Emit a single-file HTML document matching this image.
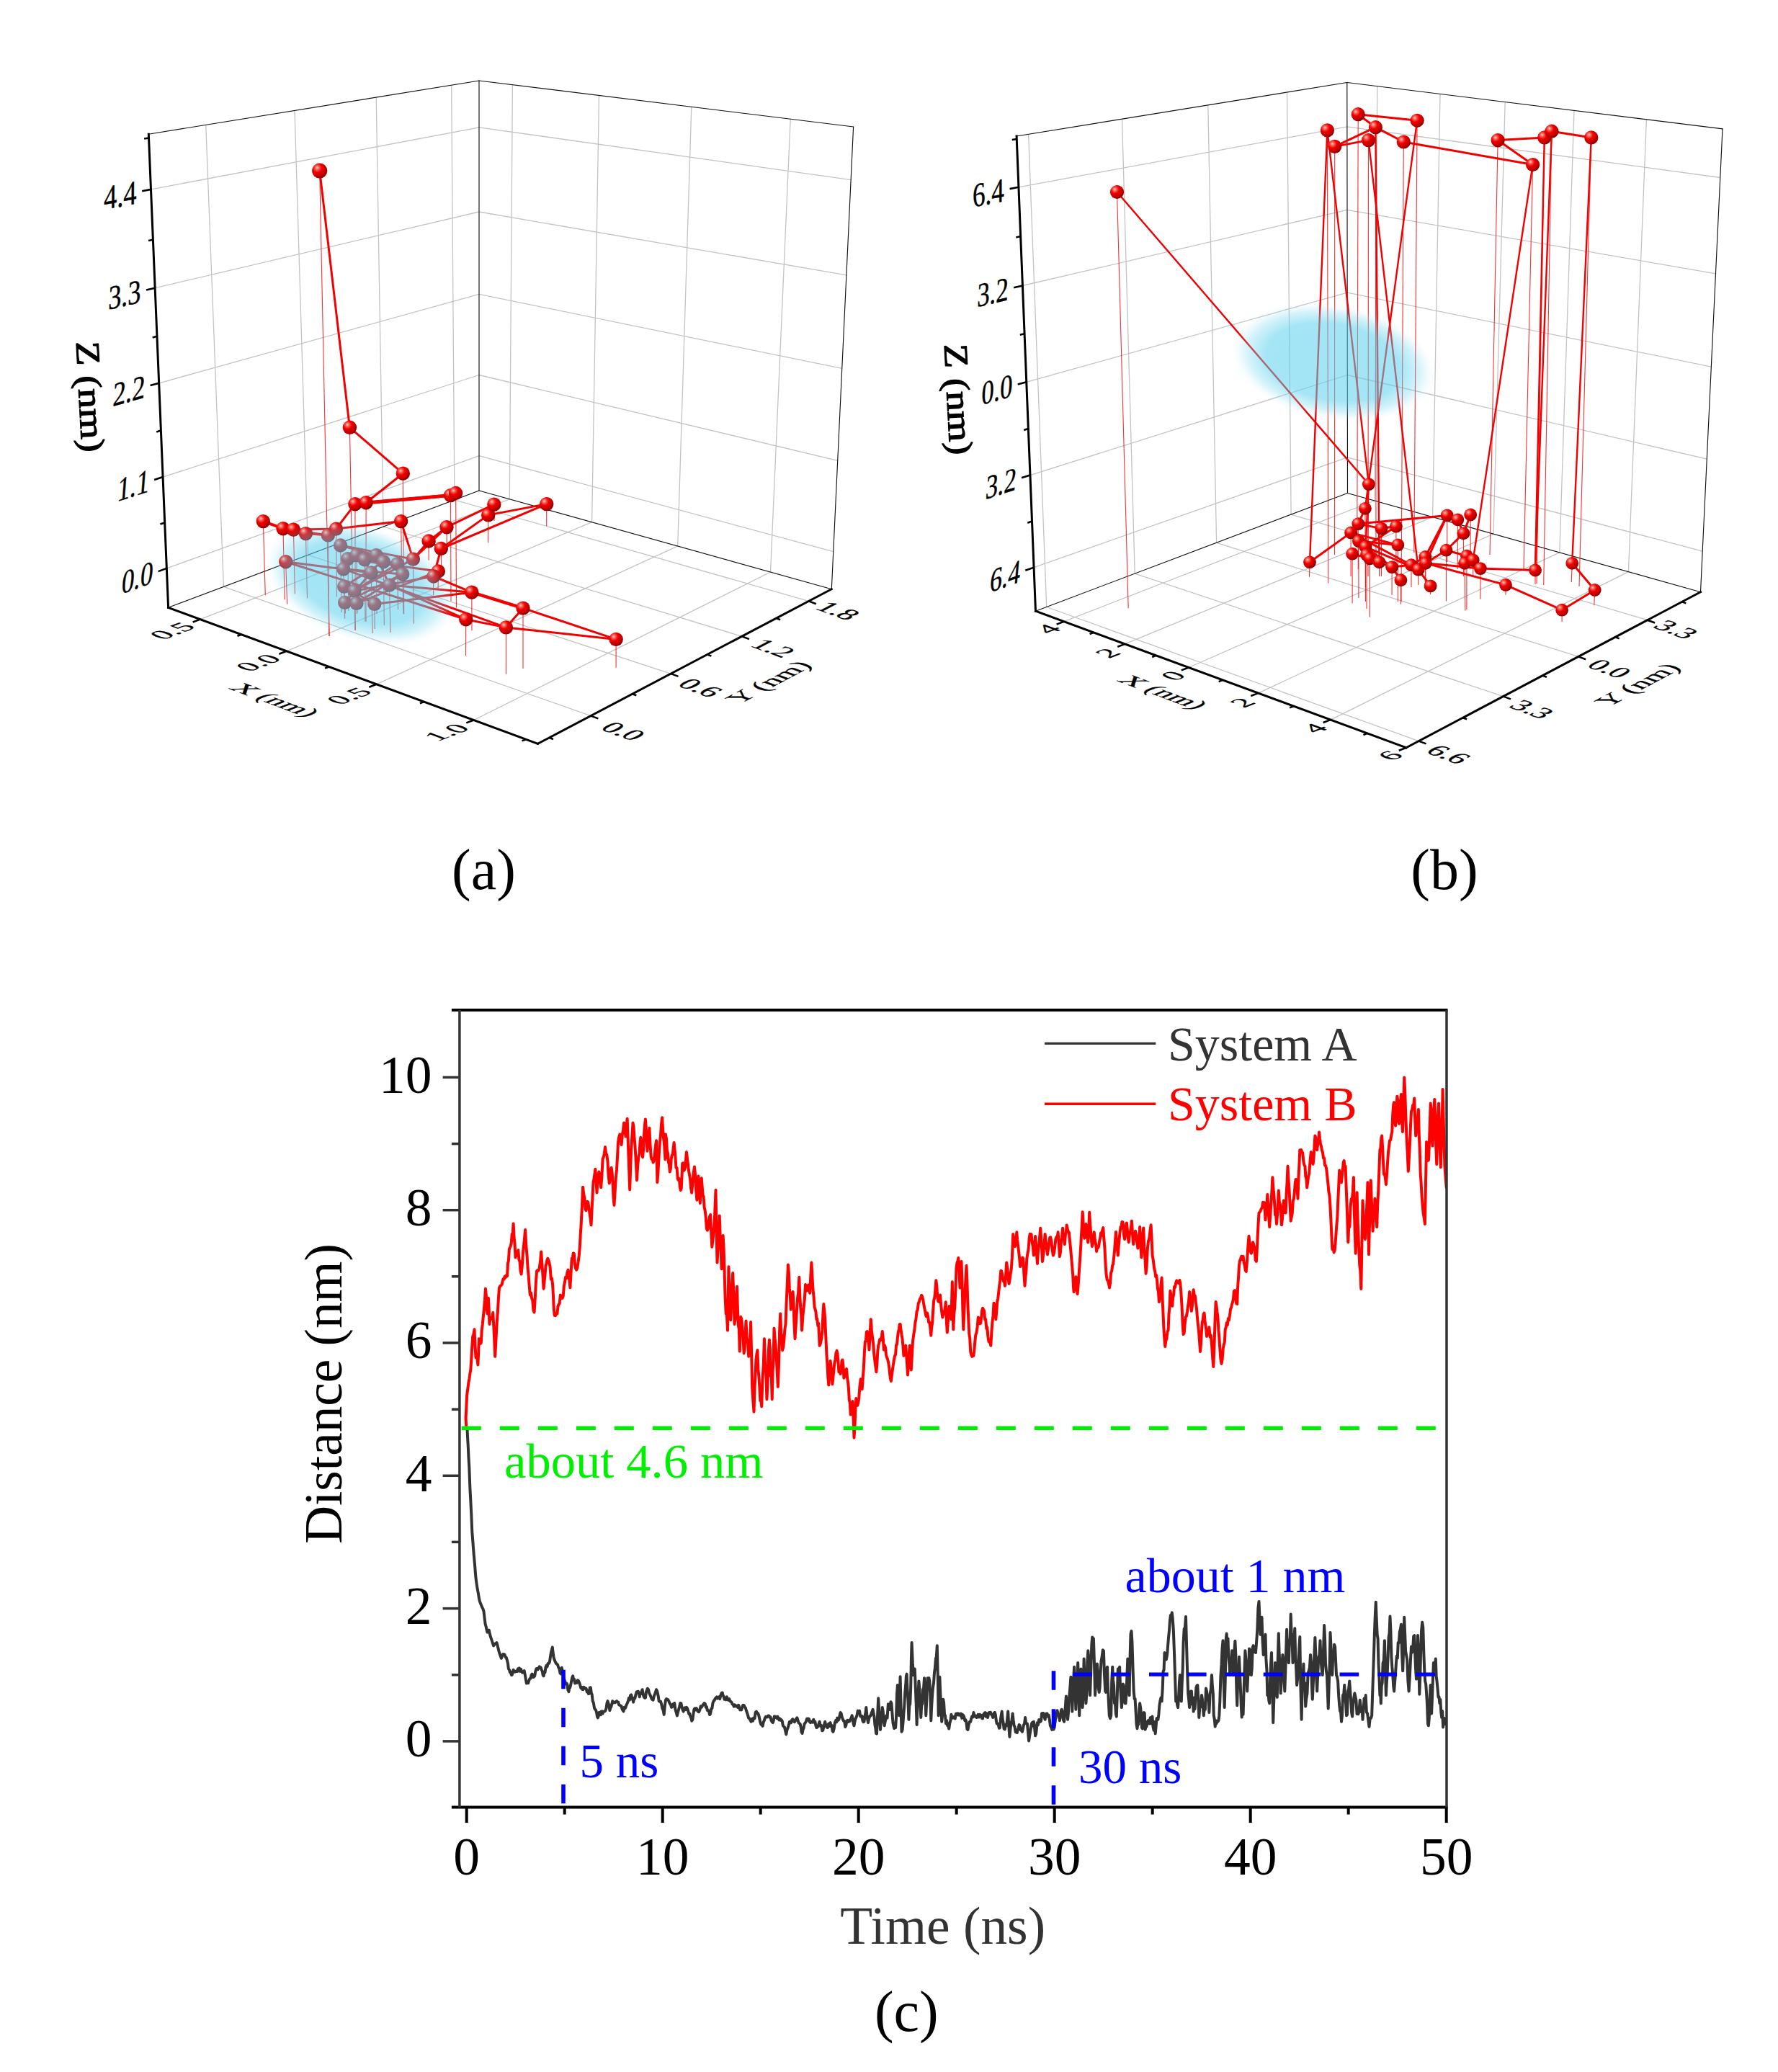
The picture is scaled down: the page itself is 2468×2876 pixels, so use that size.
<!DOCTYPE html>
<html lang="en"><head><meta charset="utf-8"><title>Figure</title>
<style>html,body{margin:0;padding:0;background:#fff}body{width:2468px;height:2876px;overflow:hidden}svg{display:block}text{font-family:"Liberation Serif","Times New Roman",serif}</style></head><body>
<svg width="2468" height="2876" viewBox="0 0 2468 2876">
<defs>
<radialGradient id="ball" cx="0.36" cy="0.33" r="0.72" fx="0.33" fy="0.30"><stop offset="0" stop-color="#ffd4c8"/><stop offset="0.19" stop-color="#ff5a50"/><stop offset="0.42" stop-color="#ee0000"/><stop offset="0.75" stop-color="#c00000"/><stop offset="1" stop-color="#7a0000"/></radialGradient>
<radialGradient id="blob" cx="0.5" cy="0.5" r="0.5"><stop offset="0" stop-color="#5bd0ed" stop-opacity="0.56"/><stop offset="0.66" stop-color="#5bd0ed" stop-opacity="0.55"/><stop offset="0.84" stop-color="#6ad5ef" stop-opacity="0.3"/><stop offset="0.94" stop-color="#7adaf1" stop-opacity="0.08"/><stop offset="1" stop-color="#80dcf2" stop-opacity="0"/></radialGradient>
<clipPath id="cc"><rect x="639" y="1403" width="1369" height="1105"/></clipPath>
</defs>
<rect width="2468" height="2876" fill="#fff"/>
<g id="plotA">
<g stroke="#c3c3c3" stroke-width="1.3" fill="none">
<line x1="285.7" y1="173.4" x2="310.4" y2="814.4"/>
<line x1="409.0" y1="153.4" x2="427.7" y2="770.3"/>
<line x1="522.2" y1="135.1" x2="532.1" y2="731.0"/>
<line x1="626.7" y1="118.2" x2="630.9" y2="693.8"/>
<line x1="209.5" y1="262.9" x2="665.0" y2="176.8"/>
<line x1="665.0" y1="176.8" x2="1181.1" y2="249.6"/>
<line x1="215.2" y1="399.7" x2="665.0" y2="294.0"/>
<line x1="665.0" y1="294.0" x2="1174.9" y2="381.9"/>
<line x1="220.7" y1="531.8" x2="665.0" y2="408.3"/>
<line x1="665.0" y1="408.3" x2="1168.8" y2="511.4"/>
<line x1="226.1" y1="662.1" x2="665.0" y2="520.5"/>
<line x1="665.0" y1="520.5" x2="1162.7" y2="639.3"/>
<line x1="231.3" y1="788.9" x2="665.0" y2="632.7"/>
<line x1="665.0" y1="632.7" x2="1156.8" y2="765.7"/>
<line x1="711.4" y1="117.7" x2="707.3" y2="692.8"/>
<line x1="831.5" y1="132.5" x2="821.6" y2="724.7"/>
<line x1="959.8" y1="148.3" x2="940.7" y2="758.0"/>
<line x1="1097.2" y1="165.2" x2="1069.5" y2="794.0"/>
<line x1="278.0" y1="859.6" x2="707.3" y2="692.8"/>
<line x1="397.7" y1="903.8" x2="821.6" y2="724.7"/>
<line x1="522.6" y1="949.8" x2="940.7" y2="758.0"/>
<line x1="657.6" y1="999.5" x2="1069.5" y2="794.0"/>
<line x1="820.1" y1="993.6" x2="310.4" y2="814.4"/>
<line x1="931.2" y1="935.1" x2="427.7" y2="770.3"/>
<line x1="1029.7" y1="883.3" x2="532.1" y2="731.0"/>
<line x1="1122.5" y1="834.4" x2="630.9" y2="693.8"/>
</g>
<g stroke="#111" stroke-width="1.15" fill="none" stroke-linecap="round">
<line x1="206.3" y1="186.2" x2="665.0" y2="112.0"/>
<line x1="665.0" y1="112.0" x2="1184.6" y2="176.0"/>
<line x1="1184.6" y1="176.0" x2="1154.3" y2="817.7"/>
<line x1="665.0" y1="112.0" x2="665.0" y2="681.0"/>
<line x1="233.6" y1="843.3" x2="665.0" y2="681.0"/>
<line x1="665.0" y1="681.0" x2="1154.3" y2="817.7"/>
</g>
<g stroke="#ee1111" stroke-width="1.1" stroke-opacity="0.85" fill="none">
<line x1="443.7" y1="237.0" x2="457.0" y2="883.0"/>
<line x1="485.4" y1="593.3" x2="490.0" y2="846.0"/>
<line x1="559.3" y1="657.2" x2="560.7" y2="852.6"/>
<line x1="492.9" y1="699.7" x2="493.3" y2="874.9"/>
<line x1="508.1" y1="697.7" x2="508.0" y2="862.7"/>
<line x1="625.5" y1="687.6" x2="626.0" y2="834.4"/>
<line x1="632.6" y1="684.5" x2="633.6" y2="843.5"/>
<line x1="556.6" y1="723.6" x2="557.6" y2="790.0"/>
<line x1="365.3" y1="723.6" x2="368.3" y2="826.3"/>
<line x1="393.0" y1="733.7" x2="395.1" y2="832.3"/>
<line x1="407.4" y1="735.2" x2="409.4" y2="824.2"/>
<line x1="424.4" y1="740.6" x2="426.5" y2="830.3"/>
<line x1="455.4" y1="742.9" x2="457.0" y2="883.0"/>
<line x1="466.5" y1="734.1" x2="467.5" y2="828.3"/>
<line x1="472.6" y1="757.0" x2="474.0" y2="850.0"/>
<line x1="396.7" y1="779.7" x2="398.6" y2="838.4"/>
<line x1="482.7" y1="775.7" x2="484.0" y2="848.0"/>
<line x1="476.7" y1="789.8" x2="478.7" y2="858.7"/>
<line x1="494.9" y1="770.6" x2="496.0" y2="850.6"/>
<line x1="506.0" y1="776.7" x2="507.0" y2="862.7"/>
<line x1="522.2" y1="770.6" x2="523.0" y2="852.0"/>
<line x1="532.3" y1="779.7" x2="533.3" y2="867.8"/>
<line x1="551.6" y1="782.7" x2="552.5" y2="846.0"/>
<line x1="573.4" y1="776.1" x2="574.3" y2="865.8"/>
<line x1="515.1" y1="794.9" x2="517.2" y2="878.9"/>
<line x1="558.7" y1="796.9" x2="560.0" y2="852.0"/>
<line x1="540.4" y1="812.1" x2="542.1" y2="877.9"/>
<line x1="477.7" y1="814.1" x2="479.0" y2="852.0"/>
<line x1="491.9" y1="820.2" x2="492.9" y2="874.9"/>
<line x1="478.7" y1="836.4" x2="479.5" y2="851.0"/>
<line x1="494.9" y1="837.4" x2="495.5" y2="852.0"/>
<line x1="519.8" y1="838.4" x2="520.2" y2="872.9"/>
<line x1="608.3" y1="792.9" x2="608.1" y2="819.2"/>
<line x1="601.8" y1="800.0" x2="601.6" y2="826.3"/>
<line x1="595.1" y1="751.0" x2="595.1" y2="777.7"/>
<line x1="612.3" y1="761.5" x2="612.5" y2="790.0"/>
<line x1="620.0" y1="731.7" x2="620.2" y2="760.0"/>
<line x1="677.7" y1="714.9" x2="677.6" y2="753.5"/>
<line x1="685.8" y1="700.1" x2="686.0" y2="723.0"/>
<line x1="654.8" y1="822.2" x2="655.0" y2="875.0"/>
<line x1="646.7" y1="859.7" x2="646.5" y2="910.0"/>
<line x1="702.4" y1="870.9" x2="702.4" y2="935.8"/>
<line x1="758.7" y1="699.6" x2="758.7" y2="730.3"/>
<line x1="726.0" y1="844.1" x2="726.0" y2="928.0"/>
<line x1="855.1" y1="887.4" x2="855.1" y2="926.8"/>
</g>
<g stroke="#f00000" stroke-width="3.0" fill="none" stroke-linecap="round">
<line x1="443.7" y1="237.0" x2="485.4" y2="593.3"/>
<line x1="485.4" y1="593.3" x2="559.3" y2="657.2"/>
<line x1="559.3" y1="657.2" x2="508.1" y2="697.7"/>
<line x1="508.1" y1="697.7" x2="625.5" y2="687.6" stroke-width="4.5"/>
<line x1="492.9" y1="699.7" x2="625.5" y2="687.6" stroke-width="4.5"/>
<line x1="492.9" y1="699.7" x2="466.5" y2="734.1"/>
<line x1="466.5" y1="734.1" x2="556.6" y2="723.6"/>
<line x1="556.6" y1="723.6" x2="573.4" y2="776.1"/>
<line x1="365.3" y1="723.6" x2="393.0" y2="733.7" stroke-width="4.0"/>
<line x1="393.0" y1="733.7" x2="407.4" y2="735.2"/>
<line x1="407.4" y1="735.2" x2="466.5" y2="734.1"/>
<line x1="424.4" y1="740.6" x2="455.4" y2="742.9"/>
<line x1="393.0" y1="733.7" x2="455.4" y2="742.9"/>
<line x1="455.4" y1="742.9" x2="466.5" y2="734.1"/>
<line x1="472.6" y1="757.0" x2="522.2" y2="770.6"/>
<line x1="472.6" y1="757.0" x2="573.4" y2="776.1"/>
<line x1="396.7" y1="779.7" x2="646.7" y2="859.7"/>
<line x1="396.7" y1="779.7" x2="515.1" y2="794.9"/>
<line x1="540.4" y1="812.1" x2="646.7" y2="859.7"/>
<line x1="482.7" y1="775.7" x2="532.3" y2="779.7"/>
<line x1="476.7" y1="789.8" x2="558.7" y2="796.9"/>
<line x1="494.9" y1="770.6" x2="551.6" y2="782.7"/>
<line x1="506.0" y1="776.7" x2="515.1" y2="794.9"/>
<line x1="522.2" y1="770.6" x2="540.4" y2="812.1"/>
<line x1="532.3" y1="779.7" x2="477.7" y2="814.1"/>
<line x1="551.6" y1="782.7" x2="491.9" y2="820.2"/>
<line x1="573.4" y1="776.1" x2="595.1" y2="751.0"/>
<line x1="515.1" y1="794.9" x2="478.7" y2="836.4"/>
<line x1="558.7" y1="796.9" x2="494.9" y2="837.4"/>
<line x1="540.4" y1="812.1" x2="654.8" y2="822.2"/>
<line x1="477.7" y1="814.1" x2="519.8" y2="838.4"/>
<line x1="491.9" y1="820.2" x2="601.8" y2="800.0"/>
<line x1="494.9" y1="837.4" x2="608.3" y2="792.9"/>
<line x1="519.8" y1="838.4" x2="654.8" y2="822.2"/>
<line x1="478.7" y1="836.4" x2="558.7" y2="796.9"/>
<line x1="595.1" y1="751.0" x2="620.0" y2="731.7"/>
<line x1="620.0" y1="731.7" x2="685.8" y2="700.1"/>
<line x1="612.3" y1="761.5" x2="677.7" y2="714.9"/>
<line x1="612.3" y1="761.5" x2="758.7" y2="699.6"/>
<line x1="677.7" y1="714.9" x2="758.7" y2="699.6"/>
<line x1="595.1" y1="751.0" x2="612.3" y2="761.5"/>
<line x1="601.8" y1="800.0" x2="654.8" y2="822.2"/>
<line x1="654.8" y1="822.2" x2="726.0" y2="844.1" stroke-width="4.5"/>
<line x1="646.7" y1="859.7" x2="702.4" y2="870.9"/>
<line x1="476.7" y1="789.8" x2="702.4" y2="870.9"/>
<line x1="702.4" y1="870.9" x2="855.1" y2="887.4"/>
<line x1="726.0" y1="844.1" x2="855.1" y2="887.4"/>
<line x1="726.0" y1="844.1" x2="702.4" y2="870.9"/>
<line x1="573.4" y1="776.1" x2="620.0" y2="731.7"/>
<line x1="601.8" y1="800.0" x2="612.3" y2="761.5"/>
<line x1="482.7" y1="775.7" x2="608.3" y2="792.9"/>
<line x1="491.9" y1="820.2" x2="573.4" y2="776.1"/>
</g>
<circle cx="443.7" cy="237.0" r="10.6" fill="url(#ball)"/>
<circle cx="485.4" cy="593.3" r="9.7" fill="url(#ball)"/>
<circle cx="559.3" cy="657.2" r="9.7" fill="url(#ball)"/>
<circle cx="492.9" cy="699.7" r="9.7" fill="url(#ball)"/>
<circle cx="508.1" cy="697.7" r="9.7" fill="url(#ball)"/>
<circle cx="625.5" cy="687.6" r="9.7" fill="url(#ball)"/>
<circle cx="632.6" cy="684.5" r="9.7" fill="url(#ball)"/>
<circle cx="556.6" cy="723.6" r="9.7" fill="url(#ball)"/>
<circle cx="365.3" cy="723.6" r="9.7" fill="url(#ball)"/>
<circle cx="393.0" cy="733.7" r="9.7" fill="url(#ball)"/>
<circle cx="407.4" cy="735.2" r="9.7" fill="url(#ball)"/>
<circle cx="424.4" cy="740.6" r="9.7" fill="url(#ball)"/>
<circle cx="455.4" cy="742.9" r="9.7" fill="url(#ball)"/>
<circle cx="466.5" cy="734.1" r="9.7" fill="url(#ball)"/>
<circle cx="472.6" cy="757.0" r="9.7" fill="url(#ball)"/>
<circle cx="396.7" cy="779.7" r="9.7" fill="url(#ball)"/>
<circle cx="482.7" cy="775.7" r="9.7" fill="url(#ball)"/>
<circle cx="476.7" cy="789.8" r="9.7" fill="url(#ball)"/>
<circle cx="494.9" cy="770.6" r="9.7" fill="url(#ball)"/>
<circle cx="506.0" cy="776.7" r="9.7" fill="url(#ball)"/>
<circle cx="522.2" cy="770.6" r="9.7" fill="url(#ball)"/>
<circle cx="532.3" cy="779.7" r="9.7" fill="url(#ball)"/>
<circle cx="551.6" cy="782.7" r="9.7" fill="url(#ball)"/>
<circle cx="573.4" cy="776.1" r="9.7" fill="url(#ball)"/>
<circle cx="515.1" cy="794.9" r="9.7" fill="url(#ball)"/>
<circle cx="558.7" cy="796.9" r="9.7" fill="url(#ball)"/>
<circle cx="540.4" cy="812.1" r="9.7" fill="url(#ball)"/>
<circle cx="477.7" cy="814.1" r="9.7" fill="url(#ball)"/>
<circle cx="491.9" cy="820.2" r="9.7" fill="url(#ball)"/>
<circle cx="478.7" cy="836.4" r="9.7" fill="url(#ball)"/>
<circle cx="494.9" cy="837.4" r="9.7" fill="url(#ball)"/>
<circle cx="519.8" cy="838.4" r="9.7" fill="url(#ball)"/>
<circle cx="608.3" cy="792.9" r="9.7" fill="url(#ball)"/>
<circle cx="601.8" cy="800.0" r="9.7" fill="url(#ball)"/>
<circle cx="595.1" cy="751.0" r="9.7" fill="url(#ball)"/>
<circle cx="612.3" cy="761.5" r="9.7" fill="url(#ball)"/>
<circle cx="620.0" cy="731.7" r="9.7" fill="url(#ball)"/>
<circle cx="677.7" cy="714.9" r="9.7" fill="url(#ball)"/>
<circle cx="685.8" cy="700.1" r="9.7" fill="url(#ball)"/>
<circle cx="654.8" cy="822.2" r="9.7" fill="url(#ball)"/>
<circle cx="646.7" cy="859.7" r="9.7" fill="url(#ball)"/>
<circle cx="702.4" cy="870.9" r="9.7" fill="url(#ball)"/>
<circle cx="758.7" cy="699.6" r="9.7" fill="url(#ball)"/>
<circle cx="726.0" cy="844.1" r="9.7" fill="url(#ball)"/>
<circle cx="855.1" cy="887.4" r="9.7" fill="url(#ball)"/>
<ellipse cx="0" cy="0" rx="136" ry="79" transform="translate(501 809) rotate(18)" fill="url(#blob)"/>
<g stroke="#000" stroke-width="3" fill="none" stroke-linecap="square">
<line x1="206.3" y1="186.2" x2="233.6" y2="843.3"/>
<line x1="233.6" y1="843.3" x2="746.5" y2="1032.3"/>
<line x1="746.5" y1="1032.3" x2="1154.3" y2="817.7"/>
</g><g stroke="#000" stroke-width="2.6" fill="none">
<line x1="197.2" y1="265.2" x2="209.5" y2="262.9"/>
<line x1="203.0" y1="402.5" x2="215.2" y2="399.7"/>
<line x1="208.6" y1="535.1" x2="220.7" y2="531.8"/>
<line x1="214.1" y1="665.9" x2="226.1" y2="662.1"/>
<line x1="219.6" y1="793.1" x2="231.3" y2="788.9"/>
<line x1="200.1" y1="192.5" x2="206.5" y2="191.5"/>
<line x1="206.0" y1="334.1" x2="212.4" y2="332.7"/>
<line x1="211.7" y1="468.4" x2="218.0" y2="466.8"/>
<line x1="217.2" y1="599.4" x2="223.4" y2="597.5"/>
<line x1="222.5" y1="727.4" x2="228.7" y2="725.4"/>
<line x1="278.0" y1="859.6" x2="267.7" y2="863.5"/>
<line x1="397.7" y1="903.8" x2="387.4" y2="907.7"/>
<line x1="522.6" y1="949.8" x2="512.3" y2="953.7"/>
<line x1="657.6" y1="999.5" x2="647.3" y2="1003.4"/>
<line x1="335.2" y1="880.7" x2="329.5" y2="882.8"/>
<line x1="456.7" y1="925.5" x2="451.1" y2="927.6"/>
<line x1="588.5" y1="974.1" x2="582.9" y2="976.2"/>
<line x1="730.1" y1="1026.3" x2="724.5" y2="1028.4"/>
<line x1="820.1" y1="993.6" x2="830.4" y2="997.4"/>
<line x1="931.2" y1="935.1" x2="941.5" y2="938.9"/>
<line x1="1029.7" y1="883.3" x2="1040.0" y2="887.1"/>
<line x1="1122.5" y1="834.4" x2="1132.8" y2="838.2"/>
<line x1="762.4" y1="1023.9" x2="768.0" y2="1026.0"/>
<line x1="877.8" y1="963.2" x2="883.4" y2="965.3"/>
<line x1="981.8" y1="908.5" x2="987.4" y2="910.6"/>
<line x1="1077.5" y1="858.1" x2="1083.1" y2="860.2"/>
</g>
<g fill="#000" stroke="#000" stroke-width="0.45">
<text transform="matrix(0.7762 -0.1468 -0.0068 1.0000 189.5 282.5)" font-size="47" text-anchor="end">4.4</text>
<text transform="matrix(0.7691 -0.1807 -0.0309 0.9995 195.2 419.4)" font-size="47" text-anchor="end">3.3</text>
<text transform="matrix(0.7611 -0.2116 -0.0532 0.9986 200.7 551.8)" font-size="47" text-anchor="end">2.2</text>
<text transform="matrix(0.7518 -0.2426 -0.0756 0.9971 206.1 682.3)" font-size="47" text-anchor="end">1.1</text>
<text transform="matrix(0.7433 -0.2677 -0.0940 0.9956 211.3 809.2)" font-size="47" text-anchor="end">0.0</text>
<text transform="matrix(0.9360 -0.3521 0.8070 0.2974 239.1 875.7)" font-size="40" text-anchor="middle" y="13.2">0.5</text>
<text transform="matrix(0.9360 -0.3521 0.8070 0.2974 358.5 920.0)" font-size="40" text-anchor="middle" y="13.2">0.0</text>
<text transform="matrix(0.9360 -0.3521 0.8070 0.2974 484.5 966.0)" font-size="40" text-anchor="middle" y="13.2">0.5</text>
<text transform="matrix(0.9360 -0.3521 0.8070 0.2974 620.0 1016.5)" font-size="40" text-anchor="middle" y="13.2">1.0</text>
<text transform="matrix(0.9383 0.3458 -0.7611 0.4005 865.1 1015.1)" font-size="40" text-anchor="middle" y="13.2">0.0</text>
<text transform="matrix(0.9383 0.3458 -0.7611 0.4005 972.0 954.7)" font-size="40" text-anchor="middle" y="13.2">0.6</text>
<text transform="matrix(0.9383 0.3458 -0.7611 0.4005 1073.2 899.8)" font-size="40" text-anchor="middle" y="13.2">1.2</text>
<text transform="matrix(0.9383 0.3458 -0.7611 0.4005 1163.2 847.8)" font-size="40" text-anchor="middle" y="13.2">1.8</text>
<text transform="matrix(0.9383 0.3458 -0.8049 0.3028 379.7 972.4)" font-size="40" text-anchor="middle" y="10.8">X (nm)</text>
<text transform="matrix(0.8849 -0.4657 0.8070 0.2974 1069.0 947.6)" font-size="40" text-anchor="middle" y="10.8">Y (nm)</text>
<text transform="translate(109.6 551.4) rotate(87.1) scale(1.175 1)" font-size="46.8" stroke="#000" stroke-width="1.15" stroke-linejoin="round" text-anchor="middle">Z (nm)</text>
</g>
</g>
<g id="plotB">
<g stroke="#c3c3c3" stroke-width="1.3" fill="none">
<line x1="1427.6" y1="186.3" x2="1452.7" y2="842.5"/>
<line x1="1557.5" y1="165.2" x2="1575.2" y2="796.1"/>
<line x1="1676.8" y1="145.8" x2="1688.6" y2="753.3"/>
<line x1="1786.5" y1="128.0" x2="1792.1" y2="714.1"/>
<line x1="1413.9" y1="259.8" x2="1869.9" y2="175.9"/>
<line x1="1869.9" y1="175.9" x2="2387.8" y2="246.5"/>
<line x1="1419.4" y1="396.5" x2="1870.0" y2="291.3"/>
<line x1="1870.0" y1="291.3" x2="2381.5" y2="379.9"/>
<line x1="1424.8" y1="530.3" x2="1870.2" y2="406.2"/>
<line x1="1870.2" y1="406.2" x2="2375.3" y2="509.1"/>
<line x1="1429.9" y1="659.6" x2="1870.3" y2="520.5"/>
<line x1="1870.3" y1="520.5" x2="2369.3" y2="637.2"/>
<line x1="1435.1" y1="787.6" x2="1870.4" y2="634.8"/>
<line x1="1870.4" y1="634.8" x2="2363.2" y2="765.1"/>
<line x1="1911.8" y1="119.7" x2="1908.0" y2="695.0"/>
<line x1="1999.0" y1="130.5" x2="1988.6" y2="717.6"/>
<line x1="2089.2" y1="141.6" x2="2073.0" y2="741.2"/>
<line x1="2185.0" y1="153.4" x2="2164.8" y2="766.9"/>
<line x1="2285.4" y1="165.8" x2="2260.4" y2="793.7"/>
<line x1="1476.9" y1="862.7" x2="1908.0" y2="695.0"/>
<line x1="1561.5" y1="893.9" x2="1988.6" y2="717.6"/>
<line x1="1650.1" y1="926.5" x2="2073.0" y2="741.2"/>
<line x1="1746.5" y1="962.1" x2="2164.8" y2="766.9"/>
<line x1="1846.9" y1="999.1" x2="2260.4" y2="793.7"/>
<line x1="1969.3" y1="1028.6" x2="1452.7" y2="842.5"/>
<line x1="2086.7" y1="966.6" x2="1575.2" y2="796.1"/>
<line x1="2190.9" y1="911.4" x2="1688.6" y2="753.3"/>
<line x1="2286.8" y1="860.7" x2="1792.1" y2="714.1"/>
</g>
<g stroke="#111" stroke-width="1.15" fill="none" stroke-linecap="round">
<line x1="1411.1" y1="189.0" x2="1869.8" y2="114.5"/>
<line x1="1869.8" y1="114.5" x2="2391.0" y2="178.9"/>
<line x1="2391.0" y1="178.9" x2="2360.5" y2="821.7"/>
<line x1="1869.8" y1="114.5" x2="1870.5" y2="684.5"/>
<line x1="1437.5" y1="848.2" x2="1870.5" y2="684.5"/>
<line x1="1870.5" y1="684.5" x2="2360.5" y2="821.7"/>
</g>
<g stroke="#ee1111" stroke-width="1.1" stroke-opacity="0.85" fill="none">
<line x1="1550.5" y1="266.5" x2="1566.2" y2="844.3"/>
<line x1="1842.4" y1="180.9" x2="1843.8" y2="809.6"/>
<line x1="1852.7" y1="203.4" x2="1852.5" y2="770.0"/>
<line x1="1885.2" y1="158.7" x2="1883.8" y2="745.0"/>
<line x1="1909.4" y1="176.7" x2="1910.0" y2="780.0"/>
<line x1="1899.5" y1="194.6" x2="1899.0" y2="800.0"/>
<line x1="1948.3" y1="197.0" x2="1945.0" y2="835.0"/>
<line x1="1967.1" y1="167.3" x2="1962.8" y2="767.0"/>
<line x1="2079.1" y1="194.6" x2="2068.0" y2="770.0"/>
<line x1="2127.6" y1="228.5" x2="2115.0" y2="790.0"/>
<line x1="2143.8" y1="190.9" x2="2133.0" y2="810.0"/>
<line x1="2153.9" y1="182.2" x2="2142.7" y2="812.0"/>
<line x1="2208.8" y1="190.9" x2="2192.0" y2="814.0"/>
<line x1="1899.9" y1="672.1" x2="1898.5" y2="785.0"/>
<line x1="1894.9" y1="705.8" x2="1895.5" y2="815.0"/>
<line x1="1885.3" y1="727.1" x2="1885.3" y2="790.0"/>
<line x1="1875.1" y1="739.4" x2="1875.1" y2="800.0"/>
<line x1="1917.5" y1="733.6" x2="1917.5" y2="800.0"/>
<line x1="1937.9" y1="730.6" x2="1937.9" y2="790.0"/>
<line x1="1885.9" y1="751.1" x2="1885.9" y2="830.0"/>
<line x1="1895.5" y1="759.0" x2="1895.5" y2="835.0"/>
<line x1="1940.3" y1="756.4" x2="1940.3" y2="835.0"/>
<line x1="1877.1" y1="768.7" x2="1877.1" y2="837.5"/>
<line x1="1897.0" y1="770.1" x2="1897.0" y2="845.0"/>
<line x1="1901.4" y1="775.4" x2="1901.4" y2="856.5"/>
<line x1="1914.5" y1="780.3" x2="1914.5" y2="800.0"/>
<line x1="1932.1" y1="787.1" x2="1932.1" y2="825.7"/>
<line x1="1818.0" y1="780.3" x2="1817.5" y2="800.8"/>
<line x1="1944.4" y1="805.2" x2="1944.4" y2="838.8"/>
<line x1="1959.0" y1="784.2" x2="1959.0" y2="815.0"/>
<line x1="1968.7" y1="790.6" x2="1968.7" y2="812.0"/>
<line x1="1978.3" y1="773.0" x2="1978.3" y2="810.0"/>
<line x1="1978.9" y1="781.8" x2="1978.9" y2="815.0"/>
<line x1="1985.6" y1="813.4" x2="1985.6" y2="825.0"/>
<line x1="2007.5" y1="763.7" x2="2007.5" y2="834.5"/>
<line x1="2008.7" y1="715.4" x2="2008.7" y2="780.0"/>
<line x1="2023.3" y1="721.3" x2="2023.3" y2="790.0"/>
<line x1="2041.2" y1="714.5" x2="2041.2" y2="770.0"/>
<line x1="2031.5" y1="740.3" x2="2031.5" y2="800.0"/>
<line x1="2035.9" y1="771.6" x2="2035.9" y2="846.0"/>
<line x1="2033.0" y1="781.8" x2="2033.9" y2="847.6"/>
<line x1="2044.7" y1="777.4" x2="2044.7" y2="800.0"/>
<line x1="2054.9" y1="789.1" x2="2054.9" y2="831.5"/>
<line x1="2090.0" y1="811.9" x2="2090.0" y2="825.7"/>
<line x1="2131.0" y1="791.5" x2="2131.0" y2="811.0"/>
<line x1="2182.2" y1="781.8" x2="2181.3" y2="808.0"/>
<line x1="2213.7" y1="819.0" x2="2212.8" y2="840.3"/>
<line x1="2168.1" y1="846.7" x2="2168.1" y2="863.0"/>
</g>
<g stroke="#f00000" stroke-width="2.4" fill="none" stroke-linecap="round">
<line x1="1909.4" y1="176.7" x2="1914.5" y2="780.3"/>
<line x1="1550.5" y1="266.5" x2="1899.9" y2="672.1"/>
<line x1="1842.4" y1="180.9" x2="1818.0" y2="780.3"/>
<line x1="1842.4" y1="180.9" x2="1899.9" y2="672.1"/>
<line x1="1967.1" y1="167.3" x2="1894.9" y2="705.8"/>
<line x1="1899.5" y1="194.6" x2="1968.7" y2="790.6"/>
<line x1="2127.6" y1="228.5" x2="2044.7" y2="777.4"/>
<line x1="2143.8" y1="190.9" x2="2131.0" y2="791.5"/>
<line x1="2153.9" y1="182.2" x2="2131.0" y2="791.5"/>
<line x1="2208.8" y1="190.9" x2="2182.2" y2="781.8"/>
<line x1="1899.9" y1="672.1" x2="1895.5" y2="759.0"/>
</g>
<g stroke="#f00000" stroke-width="3.0" fill="none" stroke-linecap="round">
<line x1="1885.2" y1="158.7" x2="1967.1" y2="167.3"/>
<line x1="1885.2" y1="158.7" x2="1909.4" y2="176.7"/>
<line x1="1909.4" y1="176.7" x2="1948.3" y2="197.0"/>
<line x1="1852.7" y1="203.4" x2="1899.5" y2="194.6"/>
<line x1="1852.7" y1="203.4" x2="1909.4" y2="176.7"/>
<line x1="1948.3" y1="197.0" x2="2127.6" y2="228.5"/>
<line x1="2079.1" y1="194.6" x2="2143.8" y2="190.9"/>
<line x1="2079.1" y1="194.6" x2="2127.6" y2="228.5"/>
<line x1="2153.9" y1="182.2" x2="2208.8" y2="190.9"/>
<line x1="1818.0" y1="780.3" x2="1875.1" y2="739.4"/>
<line x1="1885.3" y1="727.1" x2="2008.7" y2="715.4"/>
<line x1="2008.7" y1="715.4" x2="1978.9" y2="781.8"/>
<line x1="2041.2" y1="714.5" x2="2031.5" y2="740.3"/>
<line x1="2031.5" y1="740.3" x2="2007.5" y2="763.7"/>
<line x1="2007.5" y1="763.7" x2="1978.9" y2="781.8"/>
<line x1="2023.3" y1="721.3" x2="2031.5" y2="740.3"/>
<line x1="1875.1" y1="739.4" x2="1940.3" y2="756.4"/>
<line x1="1875.1" y1="739.4" x2="1959.0" y2="784.2"/>
<line x1="1917.5" y1="733.6" x2="1937.9" y2="730.6"/>
<line x1="1885.3" y1="727.1" x2="1917.5" y2="733.6"/>
<line x1="1937.9" y1="730.6" x2="1895.5" y2="759.0"/>
<line x1="1885.9" y1="751.1" x2="1940.3" y2="756.4"/>
<line x1="1885.9" y1="751.1" x2="1932.1" y2="787.1"/>
<line x1="1895.5" y1="759.0" x2="1968.7" y2="790.6"/>
<line x1="1877.1" y1="768.7" x2="1901.4" y2="775.4"/>
<line x1="1897.0" y1="770.1" x2="1914.5" y2="780.3"/>
<line x1="1901.4" y1="775.4" x2="1932.1" y2="787.1"/>
<line x1="1932.1" y1="787.1" x2="1959.0" y2="784.2"/>
<line x1="1932.1" y1="787.1" x2="1944.4" y2="805.2"/>
<line x1="1959.0" y1="784.2" x2="1978.3" y2="773.0"/>
<line x1="1968.7" y1="790.6" x2="1985.6" y2="813.4"/>
<line x1="1978.9" y1="781.8" x2="2090.0" y2="811.9"/>
<line x1="2090.0" y1="811.9" x2="2168.1" y2="846.7"/>
<line x1="2168.1" y1="846.7" x2="2213.7" y2="819.0"/>
<line x1="2213.7" y1="819.0" x2="2182.2" y2="781.8"/>
<line x1="2054.9" y1="789.1" x2="2131.0" y2="791.5"/>
<line x1="1978.9" y1="781.8" x2="2054.9" y2="789.1"/>
<line x1="2035.9" y1="771.6" x2="2044.7" y2="777.4"/>
<line x1="2033.0" y1="781.8" x2="2054.9" y2="789.1"/>
<line x1="2007.5" y1="763.7" x2="2035.9" y2="771.6"/>
<line x1="1894.9" y1="705.8" x2="1885.3" y2="727.1"/>
<line x1="1978.3" y1="773.0" x2="2008.7" y2="715.4"/>
</g>
<circle cx="1550.5" cy="266.5" r="9.6" fill="url(#ball)"/>
<circle cx="1842.4" cy="180.9" r="9.6" fill="url(#ball)"/>
<circle cx="1852.7" cy="203.4" r="9.6" fill="url(#ball)"/>
<circle cx="1885.2" cy="158.7" r="9.6" fill="url(#ball)"/>
<circle cx="1909.4" cy="176.7" r="9.6" fill="url(#ball)"/>
<circle cx="1899.5" cy="194.6" r="9.6" fill="url(#ball)"/>
<circle cx="1948.3" cy="197.0" r="9.6" fill="url(#ball)"/>
<circle cx="1967.1" cy="167.3" r="9.6" fill="url(#ball)"/>
<circle cx="2079.1" cy="194.6" r="9.6" fill="url(#ball)"/>
<circle cx="2127.6" cy="228.5" r="9.6" fill="url(#ball)"/>
<circle cx="2143.8" cy="190.9" r="9.6" fill="url(#ball)"/>
<circle cx="2153.9" cy="182.2" r="9.6" fill="url(#ball)"/>
<circle cx="2208.8" cy="190.9" r="9.6" fill="url(#ball)"/>
<circle cx="1899.9" cy="672.1" r="8.9" fill="url(#ball)"/>
<circle cx="1894.9" cy="705.8" r="8.9" fill="url(#ball)"/>
<circle cx="1885.3" cy="727.1" r="8.9" fill="url(#ball)"/>
<circle cx="1875.1" cy="739.4" r="8.9" fill="url(#ball)"/>
<circle cx="1917.5" cy="733.6" r="8.9" fill="url(#ball)"/>
<circle cx="1937.9" cy="730.6" r="8.9" fill="url(#ball)"/>
<circle cx="1885.9" cy="751.1" r="8.9" fill="url(#ball)"/>
<circle cx="1895.5" cy="759.0" r="8.9" fill="url(#ball)"/>
<circle cx="1940.3" cy="756.4" r="8.9" fill="url(#ball)"/>
<circle cx="1877.1" cy="768.7" r="8.9" fill="url(#ball)"/>
<circle cx="1897.0" cy="770.1" r="8.9" fill="url(#ball)"/>
<circle cx="1901.4" cy="775.4" r="8.9" fill="url(#ball)"/>
<circle cx="1914.5" cy="780.3" r="8.9" fill="url(#ball)"/>
<circle cx="1932.1" cy="787.1" r="8.9" fill="url(#ball)"/>
<circle cx="1818.0" cy="780.3" r="8.9" fill="url(#ball)"/>
<circle cx="1944.4" cy="805.2" r="8.9" fill="url(#ball)"/>
<circle cx="1959.0" cy="784.2" r="8.9" fill="url(#ball)"/>
<circle cx="1968.7" cy="790.6" r="8.9" fill="url(#ball)"/>
<circle cx="1978.3" cy="773.0" r="8.9" fill="url(#ball)"/>
<circle cx="1978.9" cy="781.8" r="8.9" fill="url(#ball)"/>
<circle cx="1985.6" cy="813.4" r="8.9" fill="url(#ball)"/>
<circle cx="2007.5" cy="763.7" r="8.9" fill="url(#ball)"/>
<circle cx="2008.7" cy="715.4" r="8.9" fill="url(#ball)"/>
<circle cx="2023.3" cy="721.3" r="8.9" fill="url(#ball)"/>
<circle cx="2041.2" cy="714.5" r="8.9" fill="url(#ball)"/>
<circle cx="2031.5" cy="740.3" r="8.9" fill="url(#ball)"/>
<circle cx="2035.9" cy="771.6" r="8.9" fill="url(#ball)"/>
<circle cx="2033.0" cy="781.8" r="8.9" fill="url(#ball)"/>
<circle cx="2044.7" cy="777.4" r="8.9" fill="url(#ball)"/>
<circle cx="2054.9" cy="789.1" r="8.9" fill="url(#ball)"/>
<circle cx="2090.0" cy="811.9" r="8.9" fill="url(#ball)"/>
<circle cx="2131.0" cy="791.5" r="8.9" fill="url(#ball)"/>
<circle cx="2182.2" cy="781.8" r="8.9" fill="url(#ball)"/>
<circle cx="2213.7" cy="819.0" r="8.9" fill="url(#ball)"/>
<circle cx="2168.1" cy="846.7" r="8.9" fill="url(#ball)"/>
<ellipse cx="0" cy="0" rx="142" ry="80" transform="translate(1851 502.5) rotate(10)" fill="url(#blob)"/>
<g stroke="#000" stroke-width="3" fill="none" stroke-linecap="square">
<line x1="1411.1" y1="189.0" x2="1437.5" y2="848.2"/>
<line x1="1437.5" y1="848.2" x2="1952.0" y2="1037.8"/>
<line x1="1952.0" y1="1037.8" x2="2360.5" y2="821.7"/>
</g><g stroke="#000" stroke-width="2.6" fill="none">
<line x1="1401.6" y1="262.1" x2="1413.9" y2="259.8"/>
<line x1="1407.2" y1="399.3" x2="1419.4" y2="396.5"/>
<line x1="1412.7" y1="533.5" x2="1424.8" y2="530.3"/>
<line x1="1418.0" y1="663.3" x2="1429.9" y2="659.6"/>
<line x1="1423.3" y1="791.8" x2="1435.1" y2="787.6"/>
<line x1="1404.8" y1="194.0" x2="1411.3" y2="193.0"/>
<line x1="1410.3" y1="329.4" x2="1416.7" y2="328.1"/>
<line x1="1415.8" y1="464.8" x2="1422.1" y2="463.2"/>
<line x1="1421.1" y1="596.9" x2="1427.4" y2="595.1"/>
<line x1="1426.3" y1="725.7" x2="1432.5" y2="723.6"/>
<line x1="1476.9" y1="862.7" x2="1466.6" y2="866.6"/>
<line x1="1561.5" y1="893.9" x2="1551.2" y2="897.8"/>
<line x1="1650.1" y1="926.5" x2="1639.8" y2="930.4"/>
<line x1="1746.5" y1="962.1" x2="1736.2" y2="966.0"/>
<line x1="1846.9" y1="999.1" x2="1836.6" y2="1003.0"/>
<line x1="1952.0" y1="1037.8" x2="1941.7" y2="1041.7"/>
<line x1="1518.2" y1="877.9" x2="1512.6" y2="880.1"/>
<line x1="1604.8" y1="909.9" x2="1599.2" y2="912.0"/>
<line x1="1697.3" y1="943.9" x2="1691.7" y2="946.1"/>
<line x1="1795.7" y1="980.2" x2="1790.1" y2="982.3"/>
<line x1="1898.1" y1="1017.9" x2="1892.5" y2="1020.1"/>
<line x1="1969.3" y1="1028.6" x2="1979.6" y2="1032.4"/>
<line x1="2086.7" y1="966.6" x2="2097.0" y2="970.4"/>
<line x1="2190.9" y1="911.4" x2="2201.2" y2="915.2"/>
<line x1="2286.8" y1="860.7" x2="2297.1" y2="864.5"/>
<line x1="2030.5" y1="996.3" x2="2036.1" y2="998.3"/>
<line x1="2141.3" y1="937.7" x2="2146.9" y2="939.7"/>
<line x1="2242.1" y1="884.3" x2="2247.7" y2="886.4"/>
<line x1="2334.7" y1="835.4" x2="2340.3" y2="837.4"/>
</g>
<g fill="#000" stroke="#000" stroke-width="0.45">
<text transform="matrix(0.7474 -0.1376 -0.0041 1.0000 1393.9 279.3)" font-size="47" text-anchor="end">6.4</text>
<text transform="matrix(0.7401 -0.1729 -0.0302 0.9995 1399.4 416.2)" font-size="47" text-anchor="end">3.2</text>
<text transform="matrix(0.7321 -0.2039 -0.0534 0.9986 1404.8 550.2)" font-size="47" text-anchor="end">0.0</text>
<text transform="matrix(0.7247 -0.2290 -0.0723 0.9974 1409.9 679.7)" font-size="47" text-anchor="end">3.2</text>
<text transform="matrix(0.7171 -0.2516 -0.0895 0.9960 1415.1 807.9)" font-size="47" text-anchor="end">6.4</text>
<text transform="matrix(0.9354 -0.3536 0.8070 0.2974 1455.2 873.0)" font-size="40" text-anchor="middle" y="13.2">4</text>
<text transform="matrix(0.9354 -0.3536 0.8070 0.2974 1537.9 906.5)" font-size="40" text-anchor="middle" y="13.2">2</text>
<text transform="matrix(0.9354 -0.3536 0.8070 0.2974 1628.4 938.0)" font-size="40" text-anchor="middle" y="13.2">0</text>
<text transform="matrix(0.9354 -0.3536 0.8070 0.2974 1724.9 975.4)" font-size="40" text-anchor="middle" y="13.2">2</text>
<text transform="matrix(0.9354 -0.3536 0.8070 0.2974 1825.3 1010.8)" font-size="40" text-anchor="middle" y="13.2">4</text>
<text transform="matrix(0.9354 -0.3536 0.8070 0.2974 1929.6 1048.9)" font-size="40" text-anchor="middle" y="13.2">6</text>
<text transform="matrix(0.9383 0.3458 -0.7602 0.4021 2010.6 1047.2)" font-size="40" text-anchor="middle" y="13.2">6.6</text>
<text transform="matrix(0.9383 0.3458 -0.7602 0.4021 2126.4 984.4)" font-size="40" text-anchor="middle" y="13.2">3.3</text>
<text transform="matrix(0.9383 0.3458 -0.7602 0.4021 2233.9 928.2)" font-size="40" text-anchor="middle" y="13.2">0.0</text>
<text transform="matrix(0.9383 0.3458 -0.7602 0.4021 2326.5 873.6)" font-size="40" text-anchor="middle" y="13.2">3.3</text>
<text transform="matrix(0.9383 0.3458 -0.8044 0.3041 1612.7 961.6)" font-size="40" text-anchor="middle" y="10.8">X (nm)</text>
<text transform="matrix(0.8839 -0.4676 0.8070 0.2974 2275.2 951.3)" font-size="40" text-anchor="middle" y="10.8">Y (nm)</text>
<text transform="translate(1314.6 555.1) rotate(87.1) scale(1.175 1)" font-size="46.8" stroke="#000" stroke-width="1.15" stroke-linejoin="round" text-anchor="middle">Z (nm)</text>
</g>
</g>
<text x="671.4" y="1233.6" font-size="80" text-anchor="middle" fill="#000">(a)</text>
<text x="2005" y="1233.6" font-size="80" text-anchor="middle" fill="#000">(b)</text>
<text x="1258.3" y="2818.6" font-size="80" text-anchor="middle" fill="#000">(c)</text>
<g clip-path="url(#cc)" fill="none" stroke-linejoin="round" stroke-linecap="round">
<path d="M648.4 1981.8 L649.1 1995.6 L649.8 2007.9 L650.5 2023.1 L651.3 2036.9 L652.4 2065.8 L653.3 2082.5 L654.2 2100.6 L655.3 2126.6 L656.2 2137.5 L657.1 2149.8 L658.1 2161.9 L659.1 2172.9 L659.8 2182.0 L660.5 2190.3 L661.6 2198.5 L662.8 2206.2 L663.8 2211.2 L664.7 2217.0 L665.7 2222.1 L666.9 2225.2 L668.0 2228.0 L669.2 2230.8 L670.4 2233.2 L671.5 2236.6 L672.5 2245.2 L673.6 2254.0 L674.6 2257.7 L675.5 2262.1 L676.5 2265.6 L677.6 2264.9 L678.8 2262.7 L679.8 2267.8 L680.8 2271.4 L681.9 2274.7 L683.0 2277.8 L684.0 2280.8 L685.1 2284.4 L686.2 2282.6 L687.3 2281.5 L688.4 2281.1 L689.5 2280.1 L690.5 2283.6 L691.4 2287.6 L692.4 2291.6 L693.6 2295.6 L694.7 2298.4 L695.9 2301.8 L697.0 2299.0 L698.2 2296.0 L699.4 2296.2 L700.5 2296.6 L701.7 2300.2 L702.8 2300.8 L704.0 2304.7 L705.0 2309.1 L705.9 2316.4 L706.9 2317.7 L707.9 2321.1 L708.8 2320.6 L709.8 2324.9 L710.7 2324.9 L711.7 2321.9 L712.6 2317.7 L713.7 2319.5 L714.8 2320.8 L715.9 2320.3 L717.0 2319.1 L718.0 2319.9 L718.9 2316.4 L719.8 2319.2 L720.8 2315.4 L721.9 2319.9 L723.1 2316.8 L724.2 2320.6 L725.4 2321.6 L726.5 2320.9 L727.7 2319.1 L728.8 2324.7 L729.8 2330.9 L730.9 2336.5 L732.1 2335.0 L733.2 2336.2 L734.4 2332.2 L735.5 2330.0 L736.5 2329.8 L737.6 2324.8 L738.7 2323.5 L739.9 2327.9 L741.0 2327.8 L742.2 2326.3 L743.3 2319.8 L744.5 2316.2 L745.6 2315.9 L746.6 2317.3 L747.7 2315.4 L748.8 2313.3 L749.8 2314.7 L750.7 2314.6 L751.7 2317.7 L752.7 2319.5 L753.6 2324.7 L754.6 2326.4 L755.5 2320.8 L756.5 2321.6 L757.5 2314.1 L758.4 2311.9 L759.6 2313.4 L760.7 2308.8 L761.9 2309.0 L762.9 2306.9 L763.8 2300.6 L764.8 2294.5 L765.8 2290.5 L766.8 2286.4 L767.6 2293.5 L768.5 2300.3 L769.7 2304.1 L770.8 2306.6 L772.0 2309.0 L773.1 2309.7 L774.1 2310.8 L775.2 2314.5 L776.3 2316.2 L777.5 2322.5 L778.7 2323.5 L779.8 2314.8 L780.8 2319.9 L781.7 2321.0 L782.6 2329.8 L783.6 2332.2 L784.6 2335.0 L785.5 2337.5 L786.5 2336.5 L787.5 2338.5 L788.4 2345.7 L789.4 2348.1 L790.4 2342.1 L791.3 2342.3 L792.3 2338.0 L793.3 2332.8 L794.2 2328.6 L795.2 2326.4 L796.2 2332.0 L797.1 2330.8 L798.1 2336.5 L799.3 2335.2 L800.6 2335.8 L801.8 2332.2 L803.0 2333.1 L804.1 2335.3 L805.3 2339.4 L806.4 2343.1 L807.5 2341.8 L808.5 2345.1 L809.6 2345.2 L810.6 2341.9 L811.5 2343.4 L812.5 2343.7 L813.6 2343.6 L814.7 2348.4 L815.8 2346.7 L816.9 2351.0 L817.9 2350.8 L818.8 2342.4 L819.8 2342.3 L820.8 2349.9 L821.7 2352.0 L822.7 2361.1 L823.8 2363.5 L825.0 2370.7 L826.1 2372.7 L827.0 2373.5 L828.0 2376.6 L829.0 2382.5 L829.9 2384.3 L830.9 2381.2 L831.8 2376.7 L832.8 2377.0 L833.8 2380.3 L834.7 2375.7 L835.6 2375.3 L836.6 2378.5 L837.8 2375.8 L839.0 2375.6 L840.3 2374.6 L841.5 2371.3 L842.5 2363.9 L843.5 2361.1 L844.5 2364.5 L845.4 2367.0 L846.4 2374.1 L847.4 2370.5 L848.3 2369.2 L849.2 2365.8 L850.2 2361.1 L851.4 2363.5 L852.5 2362.6 L853.7 2363.3 L854.8 2362.3 L856.0 2361.1 L857.1 2362.4 L858.1 2362.4 L859.2 2366.4 L860.3 2366.9 L861.4 2367.6 L862.5 2368.1 L863.5 2372.0 L864.6 2374.1 L865.5 2375.3 L866.5 2369.7 L867.5 2371.4 L868.4 2369.8 L869.6 2366.3 L870.7 2364.1 L871.9 2361.1 L873.0 2356.8 L874.0 2359.5 L875.1 2353.1 L876.2 2352.4 L877.2 2356.4 L878.1 2358.7 L879.1 2362.6 L880.3 2356.8 L881.4 2357.1 L882.6 2351.7 L883.7 2348.3 L884.9 2348.1 L885.9 2347.7 L886.8 2350.9 L887.8 2355.3 L888.8 2350.4 L889.7 2351.1 L890.6 2347.8 L891.6 2345.2 L892.7 2352.0 L893.9 2355.5 L895.0 2356.8 L896.0 2356.5 L896.9 2348.6 L897.8 2346.6 L898.8 2343.7 L900.0 2345.1 L901.1 2350.0 L902.3 2352.4 L903.4 2355.0 L904.5 2357.9 L905.5 2359.1 L906.6 2359.7 L907.7 2354.6 L908.8 2352.0 L909.9 2349.0 L911.0 2345.2 L912.2 2347.5 L913.5 2353.0 L914.7 2361.1 L915.9 2362.0 L917.0 2361.7 L918.2 2365.5 L919.4 2371.6 L920.5 2373.5 L921.7 2379.9 L922.9 2367.4 L924.0 2359.7 L925.1 2358.1 L926.1 2358.8 L927.2 2359.1 L928.3 2361.1 L929.2 2363.4 L930.2 2365.2 L931.1 2366.5 L932.1 2369.8 L933.1 2369.2 L934.2 2365.2 L935.2 2367.9 L936.2 2364.0 L937.4 2372.6 L938.7 2377.0 L939.9 2381.4 L941.0 2376.7 L942.1 2372.8 L943.2 2368.8 L944.3 2364.0 L945.4 2364.2 L946.5 2369.3 L947.5 2372.9 L948.6 2375.6 L949.7 2372.2 L950.8 2370.3 L951.8 2373.1 L952.9 2369.8 L954.0 2371.2 L955.1 2374.3 L956.2 2378.9 L957.3 2378.5 L958.3 2382.5 L959.2 2384.0 L960.2 2388.6 L961.3 2387.2 L962.4 2379.2 L963.4 2372.7 L964.5 2371.3 L965.6 2373.5 L966.7 2371.1 L967.8 2373.4 L968.9 2375.6 L970.1 2376.2 L971.3 2373.7 L972.6 2368.3 L973.8 2369.8 L974.8 2368.1 L975.7 2366.4 L976.6 2365.4 L977.6 2364.0 L978.7 2364.8 L979.8 2369.6 L980.8 2369.0 L981.9 2374.1 L983.0 2373.9 L984.0 2375.5 L985.1 2380.0 L986.2 2378.5 L987.3 2371.6 L988.4 2371.3 L989.5 2363.6 L990.6 2361.1 L991.7 2360.1 L992.8 2357.6 L993.8 2356.5 L994.9 2355.3 L996.0 2357.5 L997.1 2356.1 L998.2 2355.2 L999.3 2358.2 L1000.4 2353.0 L1001.6 2349.9 L1002.7 2349.5 L1003.7 2353.8 L1004.6 2354.7 L1005.5 2358.8 L1006.5 2358.2 L1007.7 2359.4 L1008.8 2355.3 L1010.0 2359.2 L1011.1 2359.9 L1012.3 2358.2 L1013.4 2361.4 L1014.5 2361.8 L1015.5 2362.8 L1016.6 2365.5 L1017.7 2366.0 L1018.8 2368.7 L1019.9 2366.3 L1021.0 2368.4 L1022.1 2368.2 L1023.1 2367.5 L1024.2 2370.0 L1025.3 2366.9 L1026.3 2370.7 L1027.2 2373.4 L1028.2 2372.7 L1029.3 2373.3 L1030.4 2368.6 L1031.5 2366.7 L1032.6 2366.9 L1033.7 2369.4 L1034.8 2370.5 L1035.8 2374.0 L1036.9 2377.0 L1038.0 2380.6 L1039.1 2384.6 L1040.2 2385.2 L1041.3 2387.2 L1042.5 2389.6 L1043.8 2385.7 L1045.0 2388.6 L1046.2 2384.5 L1047.5 2385.1 L1048.7 2376.7 L1049.9 2375.6 L1051.0 2377.6 L1052.1 2378.1 L1053.2 2380.7 L1054.3 2385.7 L1055.4 2390.6 L1056.4 2393.7 L1057.5 2394.2 L1058.6 2395.9 L1059.7 2390.4 L1060.8 2388.1 L1061.9 2384.5 L1063.0 2382.8 L1064.1 2383.5 L1065.2 2383.2 L1066.2 2381.4 L1067.3 2381.4 L1068.4 2383.7 L1069.5 2383.4 L1070.6 2388.2 L1071.7 2390.1 L1072.8 2391.0 L1073.8 2388.0 L1074.9 2382.2 L1076.0 2382.8 L1077.1 2383.3 L1078.2 2384.8 L1079.2 2382.5 L1080.3 2384.3 L1081.4 2387.4 L1082.5 2385.5 L1083.6 2387.7 L1084.7 2387.2 L1085.8 2389.1 L1086.8 2395.2 L1087.9 2396.5 L1089.0 2397.3 L1090.2 2402.8 L1091.3 2407.4 L1092.5 2400.9 L1093.6 2398.4 L1094.8 2394.4 L1095.9 2389.8 L1097.0 2391.4 L1098.1 2391.3 L1099.2 2387.2 L1100.4 2386.2 L1101.7 2389.2 L1102.9 2390.1 L1104.1 2388.1 L1105.2 2385.7 L1106.4 2384.3 L1107.5 2387.7 L1108.6 2391.3 L1109.6 2392.1 L1110.7 2393.0 L1111.7 2397.2 L1112.6 2404.4 L1113.6 2406.0 L1114.6 2400.7 L1115.5 2398.8 L1116.5 2393.0 L1117.7 2391.5 L1118.8 2389.7 L1120.0 2385.7 L1120.8 2387.7 L1121.6 2385.4 L1122.7 2385.6 L1123.9 2389.9 L1125.0 2391.1 L1126.0 2389.4 L1127.1 2390.0 L1128.2 2390.7 L1129.2 2386.8 L1130.2 2390.4 L1131.3 2389.5 L1132.4 2395.1 L1133.4 2398.1 L1134.5 2397.3 L1135.5 2396.2 L1136.5 2392.7 L1137.6 2389.7 L1138.8 2395.8 L1140.1 2395.2 L1141.3 2402.3 L1142.3 2401.8 L1143.2 2397.4 L1144.2 2393.5 L1145.2 2389.7 L1146.4 2394.9 L1147.7 2397.6 L1148.9 2398.1 L1150.1 2392.6 L1151.4 2396.0 L1152.6 2391.1 L1153.6 2396.4 L1154.5 2395.0 L1155.5 2402.5 L1156.5 2403.7 L1157.7 2399.2 L1158.9 2390.9 L1160.1 2388.2 L1161.2 2390.3 L1162.2 2384.6 L1163.3 2388.0 L1164.4 2386.8 L1165.5 2381.4 L1166.6 2377.0 L1167.7 2378.3 L1168.9 2384.1 L1170.0 2386.8 L1171.0 2388.7 L1172.1 2388.7 L1173.2 2396.9 L1174.2 2395.3 L1175.2 2390.1 L1176.3 2387.8 L1177.4 2389.9 L1178.4 2388.2 L1179.5 2389.1 L1180.5 2386.0 L1181.5 2385.0 L1182.6 2381.2 L1183.6 2385.8 L1184.5 2392.0 L1185.5 2395.3 L1186.4 2390.2 L1187.4 2385.9 L1188.3 2384.0 L1189.5 2381.2 L1190.7 2374.6 L1191.9 2375.6 L1193.0 2374.6 L1194.2 2382.3 L1195.3 2382.6 L1196.3 2381.8 L1197.4 2388.2 L1198.5 2390.2 L1199.5 2389.7 L1200.4 2382.4 L1201.4 2378.0 L1202.3 2370.0 L1203.2 2379.3 L1204.2 2387.0 L1205.1 2391.1 L1206.3 2384.9 L1207.6 2381.8 L1208.8 2381.2 L1209.7 2377.5 L1210.7 2375.3 L1211.6 2372.8 L1212.5 2378.2 L1213.5 2382.9 L1214.4 2393.9 L1215.3 2398.6 L1216.1 2406.0 L1217.0 2406.5 L1218.1 2380.8 L1219.2 2357.3 L1220.1 2372.1 L1221.1 2385.4 L1222.0 2400.9 L1222.9 2390.1 L1223.9 2383.3 L1224.8 2370.0 L1225.7 2375.0 L1226.7 2389.5 L1227.6 2395.3 L1228.5 2390.3 L1229.5 2386.6 L1230.4 2381.2 L1231.6 2384.5 L1232.9 2365.2 L1234.1 2368.6 L1235.2 2373.0 L1236.4 2362.2 L1237.5 2364.3 L1238.4 2377.3 L1239.4 2390.3 L1240.3 2395.3 L1241.2 2399.0 L1242.2 2395.2 L1243.1 2398.1 L1244.0 2384.5 L1245.0 2351.4 L1245.9 2339.0 L1247.1 2362.5 L1248.2 2381.2 L1248.9 2352.2 L1249.6 2327.2 L1250.5 2366.0 L1251.5 2403.7 L1252.5 2401.6 L1253.4 2392.2 L1254.4 2378.4 L1255.3 2367.6 L1256.3 2348.7 L1257.2 2339.0 L1257.9 2326.5 L1258.6 2323.6 L1259.5 2343.9 L1260.5 2360.9 L1261.4 2386.8 L1262.3 2367.8 L1263.3 2365.0 L1264.2 2341.8 L1264.9 2303.9 L1265.6 2280.0 L1266.8 2308.2 L1267.9 2325.0 L1268.8 2318.6 L1269.8 2316.5 L1270.7 2339.9 L1271.7 2364.8 L1272.6 2393.9 L1273.5 2366.1 L1274.5 2352.8 L1275.4 2333.4 L1276.4 2344.3 L1277.3 2366.1 L1278.3 2384.0 L1279.2 2367.2 L1280.2 2364.9 L1281.1 2344.7 L1282.0 2344.5 L1283.0 2329.2 L1284.2 2354.2 L1285.3 2381.2 L1286.4 2357.7 L1287.5 2329.2 L1288.4 2338.3 L1289.4 2328.9 L1290.3 2333.4 L1291.3 2353.6 L1292.3 2388.2 L1293.2 2368.0 L1294.2 2351.7 L1295.1 2341.8 L1296.0 2336.1 L1297.0 2321.7 L1297.9 2315.1 L1298.9 2302.2 L1299.8 2299.8 L1300.8 2284.2 L1301.8 2327.9 L1302.7 2381.2 L1303.6 2360.1 L1304.4 2327.8 L1305.3 2350.8 L1306.3 2367.3 L1307.2 2389.7 L1308.2 2380.0 L1309.2 2358.7 L1310.1 2363.4 L1311.1 2380.5 L1312.0 2381.2 L1313.0 2392.4 L1314.1 2388.3 L1315.2 2395.2 L1316.2 2395.3 L1317.2 2399.5 L1318.3 2391.9 L1319.4 2388.2 L1320.4 2379.8 L1321.5 2383.5 L1322.6 2384.7 L1323.6 2383.9 L1324.7 2382.6 L1325.8 2385.4 L1326.8 2378.8 L1327.9 2380.4 L1328.9 2378.4 L1330.0 2380.5 L1331.0 2378.7 L1332.0 2379.7 L1333.1 2381.2 L1334.1 2378.6 L1335.2 2384.9 L1336.2 2380.0 L1337.3 2381.2 L1338.2 2382.9 L1339.2 2388.1 L1340.1 2386.8 L1341.2 2389.0 L1342.4 2399.9 L1343.5 2400.9 L1344.7 2394.2 L1346.0 2389.7 L1347.2 2389.7 L1348.2 2385.3 L1349.3 2382.2 L1350.4 2383.5 L1351.4 2377.0 L1352.5 2381.8 L1353.5 2382.6 L1354.5 2381.7 L1355.6 2384.0 L1356.6 2383.3 L1357.7 2379.8 L1358.8 2383.5 L1359.8 2379.8 L1360.8 2380.3 L1361.9 2380.9 L1363.0 2385.1 L1364.0 2385.4 L1365.1 2379.8 L1366.3 2378.3 L1367.4 2377.0 L1368.6 2382.7 L1369.9 2378.4 L1371.1 2384.0 L1372.0 2378.8 L1373.0 2377.0 L1373.9 2377.0 L1375.0 2376.8 L1376.0 2379.9 L1377.0 2380.3 L1378.1 2384.0 L1379.0 2380.4 L1380.0 2377.3 L1380.9 2377.0 L1381.8 2380.1 L1382.8 2388.2 L1383.7 2392.5 L1384.8 2392.6 L1385.8 2394.3 L1386.9 2398.8 L1387.9 2398.1 L1388.8 2387.1 L1389.8 2380.3 L1390.7 2375.6 L1391.7 2386.4 L1392.6 2391.0 L1393.6 2399.5 L1394.8 2400.3 L1396.0 2393.8 L1397.2 2395.3 L1398.2 2385.6 L1399.2 2375.6 L1400.3 2395.9 L1401.4 2410.7 L1402.4 2400.3 L1403.4 2392.5 L1404.5 2387.6 L1405.6 2378.4 L1406.6 2387.7 L1407.6 2395.3 L1408.6 2396.9 L1409.7 2404.2 L1410.8 2401.8 L1411.8 2405.1 L1412.7 2401.2 L1413.7 2398.6 L1414.6 2393.9 L1415.7 2394.9 L1416.8 2401.5 L1417.8 2402.0 L1418.9 2403.7 L1420.0 2399.5 L1421.0 2394.2 L1422.0 2392.8 L1423.1 2384.0 L1424.0 2390.7 L1425.0 2392.4 L1425.9 2392.5 L1427.0 2404.1 L1428.1 2416.4 L1429.1 2409.6 L1430.0 2404.4 L1431.0 2398.1 L1432.0 2392.4 L1433.0 2390.8 L1433.9 2395.8 L1434.9 2389.7 L1436.0 2396.5 L1437.1 2409.3 L1438.1 2406.7 L1439.0 2398.6 L1440.0 2391.1 L1441.0 2394.1 L1442.1 2387.0 L1443.2 2388.5 L1444.2 2389.7 L1445.1 2388.3 L1446.1 2378.2 L1447.0 2378.4 L1448.2 2378.0 L1449.4 2382.8 L1450.6 2386.8 L1451.6 2381.4 L1452.5 2378.4 L1453.5 2378.4 L1454.6 2382.6 L1455.7 2380.7 L1456.8 2386.8 L1457.9 2395.3 L1459.1 2397.4 L1460.2 2400.9 L1461.4 2395.4 L1462.7 2400.4 L1463.9 2395.3 L1465.1 2386.2 L1466.3 2381.1 L1467.5 2374.2 L1468.6 2379.3 L1469.8 2380.6 L1470.9 2388.2 L1471.8 2383.1 L1472.8 2374.4 L1473.7 2372.8 L1474.8 2376.0 L1476.0 2387.4 L1477.1 2389.7 L1478.0 2380.5 L1479.0 2366.4 L1479.9 2354.5 L1481.0 2372.1 L1482.1 2386.8 L1483.0 2376.7 L1484.0 2357.7 L1484.9 2347.5 L1485.7 2337.6 L1486.4 2327.8 L1487.3 2348.8 L1488.3 2375.6 L1489.2 2351.9 L1490.2 2331.2 L1491.1 2313.7 L1492.2 2340.9 L1493.4 2372.8 L1494.3 2347.7 L1495.3 2327.4 L1496.2 2308.1 L1497.2 2341.5 L1498.2 2381.2 L1499.3 2352.0 L1500.4 2316.5 L1501.6 2352.6 L1502.7 2370.0 L1503.7 2346.8 L1504.6 2302.5 L1505.5 2328.8 L1506.5 2343.9 L1507.4 2364.3 L1508.4 2350.8 L1509.3 2306.8 L1510.3 2291.2 L1511.2 2301.6 L1512.2 2340.7 L1513.1 2353.1 L1514.2 2321.3 L1515.3 2282.8 L1516.2 2272.5 L1517.0 2274.0 L1517.9 2274.4 L1519.0 2308.5 L1520.1 2353.1 L1521.0 2336.8 L1522.0 2322.2 L1522.9 2309.5 L1523.8 2320.0 L1524.8 2343.5 L1525.7 2348.9 L1526.6 2342.5 L1527.6 2321.5 L1528.5 2305.3 L1529.6 2299.9 L1530.8 2290.3 L1531.9 2291.2 L1533.1 2326.2 L1534.2 2347.5 L1535.1 2348.9 L1536.1 2317.9 L1537.0 2313.7 L1537.9 2341.5 L1538.9 2363.9 L1539.8 2381.2 L1541.0 2385.3 L1542.2 2381.2 L1543.2 2335.2 L1544.2 2313.7 L1545.1 2331.9 L1546.1 2339.7 L1547.0 2364.3 L1547.9 2362.5 L1548.9 2378.6 L1549.8 2382.6 L1550.8 2353.3 L1551.8 2316.5 L1552.9 2318.4 L1554.1 2313.7 L1555.0 2338.8 L1556.0 2356.5 L1556.9 2370.0 L1557.8 2359.0 L1558.8 2337.6 L1559.7 2339.0 L1560.6 2354.5 L1561.6 2364.3 L1562.5 2364.3 L1563.4 2352.4 L1564.4 2325.7 L1565.3 2302.5 L1566.4 2315.8 L1567.6 2353.1 L1568.5 2302.7 L1569.5 2268.2 L1570.5 2263.9 L1571.5 2280.0 L1572.6 2317.3 L1573.7 2347.5 L1574.7 2358.0 L1575.6 2358.1 L1576.6 2375.6 L1577.5 2393.1 L1578.5 2399.3 L1579.4 2392.5 L1580.3 2393.5 L1581.3 2372.8 L1582.2 2364.3 L1583.1 2370.2 L1584.1 2379.3 L1585.0 2398.1 L1585.9 2399.5 L1586.9 2389.3 L1587.8 2377.0 L1588.7 2377.8 L1589.7 2400.6 L1590.6 2396.7 L1591.6 2396.4 L1592.7 2390.2 L1593.8 2388.1 L1594.8 2388.2 L1595.7 2392.5 L1596.7 2384.2 L1597.6 2384.0 L1598.6 2392.4 L1599.5 2382.6 L1600.5 2396.7 L1601.5 2401.6 L1602.6 2390.1 L1603.7 2406.3 L1604.7 2395.3 L1605.6 2385.0 L1606.6 2385.3 L1607.5 2386.8 L1608.4 2379.4 L1609.4 2367.1 L1610.3 2361.5 L1611.4 2356.6 L1612.6 2361.3 L1613.7 2344.7 L1614.6 2320.0 L1615.6 2318.0 L1616.5 2294.0 L1617.7 2300.0 L1618.9 2303.4 L1620.1 2296.9 L1621.1 2284.3 L1622.0 2273.2 L1623.0 2263.1 L1624.0 2248.5 L1624.9 2242.0 L1625.8 2242.7 L1626.8 2238.4 L1627.7 2246.2 L1628.8 2262.1 L1630.0 2294.0 L1631.1 2327.1 L1632.2 2361.5 L1633.2 2356.3 L1634.1 2366.4 L1635.1 2370.0 L1636.0 2356.9 L1637.0 2335.0 L1637.9 2325.0 L1638.8 2334.7 L1639.8 2361.5 L1640.7 2337.1 L1641.7 2316.5 L1642.6 2280.0 L1643.7 2260.8 L1644.9 2259.0 L1646.0 2244.0 L1647.2 2288.6 L1648.3 2325.0 L1649.2 2350.0 L1650.2 2359.7 L1651.1 2370.0 L1652.0 2357.5 L1653.0 2347.4 L1653.9 2347.5 L1654.8 2365.6 L1655.8 2361.0 L1656.7 2375.6 L1657.6 2356.4 L1658.6 2372.1 L1659.5 2355.9 L1660.4 2342.4 L1661.4 2339.8 L1662.3 2339.0 L1663.3 2356.8 L1664.3 2384.0 L1665.5 2367.4 L1666.8 2369.2 L1668.0 2353.1 L1668.9 2358.4 L1669.9 2370.3 L1670.8 2381.2 L1671.8 2370.7 L1672.9 2373.0 L1674.0 2343.4 L1675.0 2347.5 L1676.1 2359.4 L1677.3 2357.6 L1678.4 2377.0 L1679.6 2350.6 L1680.8 2345.1 L1682.0 2325.0 L1682.9 2340.5 L1683.9 2351.2 L1684.8 2381.2 L1685.7 2385.8 L1686.7 2396.6 L1687.6 2388.2 L1688.5 2392.5 L1689.5 2389.1 L1690.4 2389.7 L1691.4 2388.1 L1692.3 2381.7 L1693.3 2361.5 L1694.4 2327.1 L1695.5 2310.9 L1696.5 2288.8 L1697.5 2277.2 L1698.6 2335.7 L1699.7 2370.0 L1700.7 2334.0 L1701.7 2275.8 L1702.6 2267.6 L1703.6 2280.2 L1704.5 2274.4 L1705.4 2301.0 L1706.4 2310.5 L1707.3 2325.0 L1708.2 2319.0 L1709.2 2303.1 L1710.1 2291.2 L1711.1 2301.2 L1712.1 2325.0 L1713.2 2293.9 L1714.4 2277.7 L1715.3 2296.1 L1716.3 2341.7 L1717.2 2367.2 L1718.1 2335.3 L1719.1 2325.4 L1720.0 2299.7 L1720.9 2319.4 L1721.9 2343.0 L1722.8 2367.2 L1723.7 2383.6 L1724.7 2372.8 L1725.6 2379.8 L1726.5 2349.6 L1727.5 2317.6 L1728.4 2291.2 L1729.3 2302.6 L1730.3 2321.6 L1731.2 2347.5 L1732.1 2328.6 L1733.1 2316.4 L1734.0 2288.4 L1735.0 2290.0 L1735.9 2324.4 L1736.9 2325.0 L1737.8 2315.9 L1738.8 2286.2 L1739.7 2284.2 L1740.8 2292.9 L1741.9 2288.2 L1743.0 2294.0 L1744.2 2278.2 L1745.3 2261.7 L1746.4 2231.9 L1747.5 2222.9 L1748.5 2246.1 L1749.5 2268.7 L1750.5 2257.3 L1751.5 2244.8 L1752.6 2278.2 L1753.7 2296.9 L1754.6 2289.6 L1755.6 2283.4 L1756.5 2268.7 L1757.4 2302.9 L1758.4 2317.7 L1759.3 2353.1 L1760.3 2344.5 L1761.2 2360.0 L1762.2 2364.3 L1763.1 2331.2 L1764.1 2308.1 L1765.0 2294.0 L1766.1 2337.9 L1767.2 2391.1 L1768.1 2364.4 L1769.1 2338.8 L1770.0 2308.1 L1770.9 2327.8 L1771.9 2351.5 L1772.8 2355.9 L1773.8 2301.3 L1774.8 2267.3 L1775.7 2296.5 L1776.7 2311.9 L1777.6 2350.3 L1778.5 2336.9 L1779.5 2313.1 L1780.4 2296.9 L1781.4 2304.4 L1782.3 2325.7 L1783.3 2347.5 L1784.2 2323.1 L1785.2 2289.6 L1786.1 2261.7 L1787.0 2288.7 L1788.0 2288.9 L1788.9 2308.1 L1789.8 2281.4 L1790.8 2274.1 L1791.7 2240.6 L1792.6 2265.9 L1793.6 2275.4 L1794.5 2308.1 L1795.4 2299.6 L1796.4 2272.7 L1797.3 2260.3 L1798.2 2298.2 L1799.2 2316.3 L1800.1 2339.0 L1801.1 2330.2 L1802.2 2315.8 L1803.2 2289.1 L1804.3 2272.1 L1805.4 2341.6 L1806.6 2386.8 L1807.5 2348.7 L1808.5 2331.1 L1809.4 2309.5 L1810.3 2338.0 L1811.3 2336.1 L1812.2 2368.6 L1813.3 2357.6 L1814.5 2350.6 L1815.6 2322.2 L1816.7 2319.4 L1817.9 2314.7 L1819.0 2296.9 L1819.9 2306.5 L1820.9 2339.1 L1821.8 2358.7 L1823.0 2333.0 L1824.2 2299.8 L1825.4 2272.9 L1826.3 2295.7 L1827.3 2330.2 L1828.2 2347.5 L1829.3 2321.2 L1830.3 2300.5 L1831.4 2297.2 L1832.5 2277.2 L1833.6 2305.3 L1834.7 2317.6 L1835.8 2325.0 L1836.9 2295.1 L1838.1 2256.1 L1839.0 2271.8 L1840.0 2308.7 L1840.9 2319.3 L1841.8 2324.7 L1842.8 2347.4 L1843.7 2371.4 L1844.6 2343.7 L1845.6 2311.3 L1846.5 2265.9 L1847.4 2283.1 L1848.4 2315.9 L1849.3 2325.0 L1850.2 2300.8 L1851.2 2299.4 L1852.1 2282.8 L1853.1 2285.6 L1854.0 2304.0 L1855.0 2325.0 L1856.0 2327.5 L1857.1 2333.3 L1858.2 2354.2 L1859.2 2367.2 L1860.1 2374.7 L1861.1 2376.5 L1862.0 2389.7 L1863.0 2381.0 L1864.1 2352.7 L1865.2 2352.1 L1866.2 2339.0 L1867.1 2353.8 L1868.1 2364.6 L1869.0 2381.2 L1870.0 2380.0 L1871.1 2347.6 L1872.2 2343.4 L1873.2 2333.4 L1874.2 2346.9 L1875.1 2359.2 L1876.1 2377.0 L1877.1 2382.6 L1878.2 2365.5 L1879.2 2357.4 L1880.3 2350.3 L1881.3 2354.4 L1882.4 2359.9 L1883.5 2378.9 L1884.5 2372.8 L1885.5 2379.2 L1886.6 2373.8 L1887.7 2359.8 L1888.7 2367.2 L1889.6 2376.2 L1890.6 2370.6 L1891.5 2386.8 L1892.5 2374.5 L1893.6 2357.5 L1894.7 2366.9 L1895.7 2353.1 L1896.9 2376.4 L1898.1 2378.5 L1899.3 2387.6 L1900.5 2396.7 L1901.7 2385.0 L1903.0 2384.9 L1904.2 2381.2 L1905.1 2352.2 L1906.1 2323.0 L1907.0 2296.9 L1907.9 2266.5 L1908.9 2240.8 L1909.8 2223.7 L1910.7 2247.1 L1911.7 2269.3 L1912.6 2274.4 L1913.5 2309.0 L1914.5 2330.0 L1915.4 2353.1 L1916.1 2346.4 L1916.8 2364.3 L1917.7 2340.4 L1918.7 2335.7 L1919.6 2308.1 L1920.8 2304.9 L1921.9 2277.2 L1922.9 2316.4 L1923.9 2353.1 L1924.8 2336.2 L1925.8 2320.5 L1926.7 2296.9 L1927.6 2272.5 L1928.6 2266.7 L1929.5 2243.4 L1930.4 2263.3 L1931.4 2299.3 L1932.3 2313.7 L1933.2 2324.0 L1934.2 2340.5 L1935.1 2347.5 L1936.0 2336.3 L1937.0 2323.1 L1937.9 2309.5 L1938.8 2298.6 L1939.8 2301.6 L1940.7 2280.0 L1941.8 2280.3 L1942.8 2265.3 L1943.9 2261.2 L1944.9 2254.7 L1946.1 2297.3 L1947.2 2319.3 L1948.2 2288.5 L1949.2 2244.8 L1950.1 2266.1 L1951.1 2291.5 L1952.0 2296.9 L1953.2 2303.8 L1954.4 2333.2 L1955.6 2347.5 L1956.7 2330.1 L1957.9 2305.1 L1959.0 2285.6 L1960.0 2293.8 L1961.1 2290.0 L1962.2 2271.1 L1963.2 2270.1 L1964.1 2293.3 L1965.1 2317.3 L1966.0 2330.6 L1967.0 2305.4 L1968.0 2270.1 L1969.2 2307.3 L1970.3 2351.7 L1971.2 2329.9 L1972.2 2288.7 L1973.1 2263.1 L1974.2 2251.8 L1975.3 2258.9 L1976.3 2293.4 L1977.3 2319.3 L1978.2 2333.5 L1979.2 2337.6 L1980.1 2350.3 L1981.0 2365.3 L1982.0 2393.0 L1982.9 2395.3 L1983.8 2384.5 L1984.8 2355.3 L1985.7 2339.0 L1986.4 2369.4 L1987.1 2378.4 L1988.0 2356.8 L1989.0 2329.1 L1989.9 2308.1 L1990.9 2310.1 L1991.8 2311.7 L1992.8 2302.5 L1993.7 2326.9 L1994.7 2335.1 L1995.6 2344.7 L1996.5 2355.6 L1997.5 2355.2 L1998.4 2364.3 L1999.3 2358.9 L2000.3 2376.3 L2001.2 2384.0 L2002.1 2374.9 L2003.1 2397.4 L2004.0 2386.8 L2005.2 2385.1 L2006.5 2393.3 L2007.7 2392.5" stroke="#333" stroke-width="4"/>
<path d="M647.3 1983.0 L646.6 1968.2 L647.4 1951.6 L648.1 1936.4 L649.2 1928.4 L650.4 1919.0 L651.4 1913.8 L652.3 1907.0 L653.3 1901.7 L654.3 1886.2 L655.2 1870.2 L656.2 1855.3 L657.4 1851.9 L658.5 1845.2 L659.5 1867.9 L660.5 1884.3 L661.5 1883.2 L662.4 1885.8 L663.4 1894.4 L664.1 1880.0 L664.9 1858.2 L665.9 1859.4 L666.8 1865.0 L667.8 1864.0 L668.8 1845.5 L669.8 1838.0 L671.0 1825.8 L672.1 1814.8 L673.0 1804.2 L673.9 1788.7 L674.8 1797.3 L675.6 1816.8 L676.5 1823.5 L677.2 1817.1 L677.9 1801.8 L678.6 1814.7 L679.4 1838.0 L680.6 1828.8 L681.8 1830.5 L683.1 1830.8 L684.3 1822.0 L685.3 1841.0 L686.2 1859.4 L687.2 1882.8 L688.4 1861.2 L689.7 1836.2 L690.9 1820.6 L692.0 1800.9 L693.0 1787.3 L694.2 1785.2 L695.5 1784.3 L696.7 1782.9 L697.7 1777.6 L698.6 1775.1 L699.6 1775.7 L700.7 1771.5 L701.8 1773.1 L702.9 1770.2 L704.0 1771.4 L705.0 1753.6 L705.9 1750.0 L706.9 1733.7 L707.9 1731.4 L708.8 1729.5 L709.8 1725.0 L710.7 1712.7 L711.7 1712.7 L712.6 1698.4 L713.6 1718.0 L714.5 1725.5 L715.5 1745.3 L716.5 1740.9 L717.4 1742.7 L718.3 1740.0 L719.3 1735.2 L720.4 1748.3 L721.5 1751.0 L722.5 1763.8 L723.6 1768.5 L724.8 1756.8 L725.9 1739.3 L727.1 1727.9 L728.1 1718.5 L729.1 1707.1 L730.3 1729.0 L731.5 1742.4 L732.6 1760.0 L733.6 1770.0 L734.7 1784.6 L735.8 1797.4 L737.0 1794.5 L738.1 1801.8 L739.3 1805.5 L740.4 1818.2 L741.6 1821.5 L742.8 1801.4 L743.9 1779.6 L745.1 1764.1 L746.3 1763.2 L747.6 1763.5 L748.8 1759.8 L750.0 1750.6 L751.2 1737.5 L752.3 1753.2 L753.5 1771.0 L754.6 1788.7 L755.6 1778.2 L756.5 1770.6 L757.5 1756.9 L758.5 1753.8 L759.4 1749.0 L760.4 1746.8 L761.4 1749.5 L762.4 1752.5 L763.6 1758.9 L764.8 1775.7 L766.0 1774.3 L767.1 1782.9 L768.0 1799.4 L768.8 1816.8 L769.7 1825.8 L770.9 1826.1 L772.2 1823.1 L773.4 1823.5 L774.5 1813.3 L775.6 1810.5 L776.7 1809.2 L777.8 1797.4 L778.8 1801.8 L779.7 1800.8 L780.7 1801.8 L781.8 1798.5 L782.9 1784.4 L783.9 1780.2 L785.0 1772.8 L786.2 1774.4 L787.3 1766.9 L788.5 1762.7 L789.5 1770.5 L790.4 1776.6 L791.4 1787.3 L792.5 1767.6 L793.7 1746.8 L794.7 1748.2 L795.7 1739.5 L796.8 1739.9 L797.9 1754.2 L799.0 1760.4 L800.1 1762.7 L801.3 1760.2 L802.6 1751.8 L803.8 1742.4 L804.8 1731.3 L805.7 1713.7 L806.7 1699.0 L807.9 1674.0 L809.1 1647.7 L810.2 1657.2 L811.4 1663.5 L812.5 1678.7 L813.5 1680.2 L814.4 1674.4 L815.3 1667.8 L816.3 1668.6 L817.4 1676.6 L818.5 1684.3 L819.5 1690.9 L820.6 1700.4 L821.6 1678.9 L822.5 1661.3 L823.5 1641.1 L824.5 1636.4 L825.4 1630.1 L826.4 1622.8 L827.5 1638.7 L828.5 1655.6 L829.4 1640.7 L830.4 1633.3 L831.3 1626.6 L832.3 1630.3 L833.2 1642.0 L834.2 1648.3 L835.4 1632.5 L836.6 1608.7 L837.7 1606.4 L838.9 1600.8 L840.0 1591.9 L841.2 1602.1 L842.3 1602.7 L843.5 1612.1 L844.6 1631.1 L845.8 1642.5 L846.8 1637.2 L847.7 1623.4 L848.7 1620.8 L849.7 1628.5 L850.6 1641.5 L851.5 1662.7 L852.5 1672.9 L853.7 1653.7 L854.8 1635.8 L856.0 1623.7 L857.0 1606.3 L858.0 1586.1 L859.1 1578.6 L860.3 1574.5 L861.5 1577.0 L862.6 1589.0 L863.8 1575.1 L864.9 1569.0 L866.1 1558.6 L867.2 1564.3 L868.4 1577.4 L869.5 1562.6 L870.7 1552.8 L871.9 1587.9 L873.0 1617.9 L874.2 1651.2 L875.2 1621.0 L876.2 1594.8 L877.4 1576.4 L878.5 1558.6 L879.5 1563.5 L880.4 1577.6 L881.4 1589.0 L882.3 1604.5 L883.1 1618.4 L884.0 1638.2 L885.2 1617.9 L886.4 1606.3 L887.4 1601.5 L888.3 1588.1 L889.3 1578.8 L890.2 1584.8 L891.2 1598.3 L892.1 1606.3 L893.0 1596.6 L894.0 1574.7 L895.0 1561.5 L895.9 1553.6 L896.8 1564.4 L897.6 1585.4 L898.5 1597.7 L899.5 1583.3 L900.4 1578.7 L901.4 1565.8 L902.5 1588.0 L903.7 1606.3 L904.7 1609.2 L905.6 1608.1 L906.6 1613.6 L907.7 1611.2 L908.8 1601.7 L909.9 1591.0 L911.0 1583.2 L911.7 1609.1 L912.4 1641.1 L913.6 1624.4 L914.7 1603.3 L915.9 1586.1 L917.0 1575.3 L918.0 1560.9 L919.1 1551.3 L920.1 1567.2 L921.1 1580.3 L922.2 1589.9 L923.4 1609.2 L924.0 1574.5 L925.0 1581.0 L925.9 1597.0 L926.9 1600.6 L927.9 1613.4 L928.8 1615.8 L929.8 1626.6 L930.8 1622.8 L931.7 1609.0 L932.7 1603.4 L933.7 1602.5 L934.6 1594.5 L935.6 1586.1 L936.6 1596.7 L937.5 1606.5 L938.5 1620.8 L939.6 1621.2 L940.8 1636.6 L941.9 1638.2 L942.9 1636.0 L943.8 1647.5 L944.8 1652.0 L945.7 1649.8 L946.5 1633.2 L947.2 1615.0 L948.2 1614.3 L949.1 1624.8 L950.1 1623.7 L951.0 1620.7 L952.0 1609.5 L952.9 1599.1 L953.9 1607.4 L954.8 1614.2 L955.8 1623.7 L956.9 1630.0 L958.0 1636.4 L959.1 1649.5 L960.2 1655.6 L961.4 1642.8 L962.7 1628.1 L963.9 1619.4 L965.1 1630.5 L966.2 1652.1 L967.4 1665.7 L968.4 1646.8 L969.4 1632.4 L970.6 1651.2 L971.8 1670.0 L972.8 1650.7 L973.8 1635.3 L974.8 1649.5 L975.7 1659.9 L976.6 1660.4 L977.6 1675.8 L978.7 1680.5 L979.8 1689.9 L980.8 1705.1 L981.9 1707.7 L983.0 1705.4 L984.0 1695.1 L985.1 1688.3 L986.2 1686.0 L987.2 1710.3 L988.3 1730.8 L989.5 1721.0 L990.8 1708.6 L992.0 1690.3 L992.8 1669.3 L993.5 1651.8 L994.5 1706.4 L995.5 1752.5 L996.6 1732.9 L997.6 1708.9 L998.7 1687.4 L999.7 1717.3 L1000.6 1733.7 L1001.6 1761.2 L1002.6 1740.5 L1003.6 1714.9 L1004.6 1732.4 L1005.5 1762.0 L1006.5 1797.4 L1007.7 1823.7 L1008.8 1823.3 L1010.0 1846.6 L1010.7 1808.7 L1011.4 1758.3 L1012.4 1785.3 L1013.3 1815.8 L1014.3 1832.2 L1015.3 1807.3 L1016.2 1784.9 L1017.2 1767.0 L1018.4 1797.5 L1019.5 1838.0 L1020.7 1829.4 L1021.8 1805.7 L1023.0 1785.8 L1024.0 1819.2 L1024.9 1840.0 L1025.8 1844.4 L1026.8 1875.6 L1027.5 1852.9 L1028.2 1827.8 L1029.3 1831.0 L1030.4 1842.1 L1031.5 1855.6 L1032.6 1878.5 L1033.6 1872.3 L1034.5 1855.5 L1035.5 1833.6 L1036.7 1857.9 L1038.0 1862.6 L1039.2 1882.8 L1040.2 1869.7 L1041.1 1857.8 L1042.1 1835.1 L1043.1 1877.0 L1044.1 1924.8 L1045.3 1943.9 L1046.5 1959.6 L1047.5 1926.9 L1048.5 1907.4 L1049.5 1886.3 L1050.4 1879.6 L1051.4 1874.1 L1052.4 1900.4 L1053.3 1909.4 L1054.3 1924.8 L1055.3 1944.2 L1056.2 1942.1 L1057.2 1952.3 L1058.4 1915.6 L1059.7 1896.5 L1060.9 1858.2 L1062.1 1894.1 L1063.2 1902.5 L1064.4 1942.2 L1065.6 1918.8 L1066.7 1877.4 L1067.9 1859.7 L1068.9 1871.1 L1069.8 1910.2 L1070.8 1910.5 L1071.7 1942.2 L1072.6 1903.1 L1073.6 1888.2 L1074.5 1843.7 L1075.6 1858.0 L1076.6 1866.9 L1077.7 1884.4 L1078.7 1902.4 L1079.8 1924.8 L1080.9 1896.9 L1082.1 1847.7 L1083.2 1823.5 L1084.2 1850.2 L1085.1 1854.3 L1086.1 1874.1 L1087.2 1870.2 L1088.3 1860.6 L1089.4 1844.8 L1090.5 1838.0 L1091.6 1807.8 L1092.8 1782.7 L1093.9 1755.4 L1094.9 1766.6 L1095.8 1788.2 L1096.8 1797.1 L1097.7 1817.7 L1098.7 1804.1 L1099.6 1806.6 L1100.6 1793.1 L1101.6 1812.6 L1102.5 1837.6 L1103.5 1858.2 L1104.7 1840.6 L1105.8 1822.0 L1107.0 1802.2 L1108.1 1794.4 L1109.3 1772.8 L1110.2 1796.4 L1111.2 1814.9 L1112.1 1823.9 L1113.1 1846.6 L1114.3 1827.5 L1115.5 1816.0 L1116.8 1804.1 L1118.0 1782.9 L1119.0 1787.7 L1120.0 1791.6 L1121.1 1789.6 L1122.2 1783.4 L1123.2 1790.8 L1124.2 1794.7 L1125.3 1770.9 L1126.4 1752.5 L1127.4 1771.2 L1128.4 1789.0 L1129.5 1799.5 L1130.6 1814.3 L1131.5 1817.1 L1132.5 1821.0 L1133.4 1831.2 L1134.3 1830.7 L1135.3 1840.3 L1136.2 1836.8 L1136.9 1851.7 L1137.6 1867.8 L1138.6 1865.7 L1139.5 1861.8 L1140.5 1856.5 L1141.4 1845.9 L1142.4 1824.4 L1143.3 1810.1 L1144.2 1818.5 L1145.2 1831.2 L1146.3 1854.6 L1147.5 1881.8 L1148.4 1893.4 L1149.4 1912.8 L1150.3 1922.6 L1151.4 1910.1 L1152.6 1888.9 L1153.5 1897.5 L1154.5 1908.6 L1155.4 1921.2 L1156.3 1912.3 L1157.3 1903.3 L1158.2 1893.1 L1159.3 1888.1 L1160.5 1878.1 L1161.6 1874.8 L1162.5 1879.4 L1163.5 1891.6 L1164.4 1904.3 L1165.5 1901.0 L1166.6 1907.1 L1167.5 1901.1 L1168.5 1889.3 L1169.4 1887.5 L1170.4 1895.5 L1171.4 1912.8 L1172.6 1910.1 L1173.9 1902.0 L1175.1 1900.1 L1176.0 1912.2 L1177.0 1917.8 L1177.9 1926.8 L1178.8 1943.0 L1179.8 1947.4 L1180.7 1963.4 L1181.6 1957.3 L1182.6 1954.4 L1183.5 1945.1 L1184.5 1965.7 L1185.5 1995.7 L1186.4 1982.4 L1187.4 1955.6 L1188.3 1940.9 L1189.2 1946.3 L1190.2 1950.9 L1191.1 1947.9 L1192.3 1940.2 L1193.5 1923.5 L1194.7 1914.2 L1195.7 1916.9 L1196.7 1928.2 L1197.8 1911.8 L1198.8 1899.8 L1199.9 1876.4 L1200.9 1862.1 L1201.8 1861.8 L1202.8 1848.8 L1203.7 1848.1 L1204.6 1861.0 L1205.6 1859.8 L1206.5 1873.4 L1207.7 1850.3 L1208.8 1831.2 L1209.9 1846.9 L1211.1 1857.1 L1212.2 1865.0 L1213.2 1879.3 L1214.3 1888.4 L1215.4 1897.2 L1216.4 1904.3 L1217.3 1894.2 L1218.3 1876.4 L1219.2 1867.8 L1220.1 1864.7 L1221.1 1859.3 L1222.0 1860.7 L1222.9 1858.9 L1223.9 1854.1 L1224.8 1848.1 L1225.8 1858.0 L1226.8 1873.4 L1227.9 1867.2 L1229.0 1870.6 L1230.1 1881.0 L1231.2 1884.5 L1232.2 1887.0 L1233.3 1891.7 L1234.5 1900.6 L1235.7 1912.4 L1236.9 1917.0 L1238.0 1908.1 L1239.2 1899.0 L1240.3 1891.7 L1241.2 1886.2 L1242.2 1881.5 L1243.1 1880.4 L1244.0 1867.2 L1245.0 1866.1 L1245.9 1856.5 L1246.8 1849.5 L1247.8 1845.1 L1248.7 1838.2 L1249.6 1838.1 L1250.6 1846.0 L1251.5 1852.3 L1252.5 1858.2 L1253.4 1867.8 L1254.4 1881.8 L1255.3 1874.5 L1256.3 1876.1 L1257.2 1867.8 L1258.1 1880.2 L1259.1 1893.8 L1260.0 1908.5 L1260.9 1896.2 L1261.9 1878.4 L1262.8 1867.8 L1263.8 1879.2 L1264.8 1901.5 L1265.9 1882.1 L1267.0 1862.1 L1268.1 1853.7 L1269.2 1846.9 L1270.4 1836.2 L1271.5 1830.5 L1272.6 1820.0 L1273.7 1818.3 L1274.8 1808.7 L1275.8 1807.3 L1276.9 1803.1 L1278.0 1801.7 L1279.1 1797.8 L1280.2 1799.7 L1281.4 1805.0 L1282.7 1813.0 L1283.9 1818.6 L1285.0 1825.2 L1286.0 1827.4 L1287.0 1822.4 L1288.1 1827.0 L1289.1 1835.3 L1290.2 1835.4 L1291.2 1842.3 L1292.3 1853.7 L1293.2 1842.6 L1294.2 1835.4 L1295.1 1820.0 L1296.1 1805.6 L1297.2 1801.5 L1298.2 1792.1 L1299.3 1777.2 L1300.3 1784.7 L1301.2 1798.5 L1302.2 1805.9 L1303.1 1806.9 L1304.1 1798.9 L1305.0 1797.5 L1306.1 1810.0 L1307.2 1820.7 L1308.3 1828.4 L1309.4 1824.2 L1310.5 1821.8 L1311.7 1816.9 L1312.8 1807.3 L1313.8 1833.5 L1314.8 1849.5 L1315.7 1838.1 L1316.7 1821.5 L1317.6 1812.9 L1318.5 1816.3 L1319.5 1822.0 L1320.4 1831.2 L1321.1 1806.0 L1321.8 1779.2 L1322.5 1815.1 L1323.3 1845.3 L1324.2 1824.4 L1325.2 1815.4 L1326.1 1797.5 L1326.8 1780.9 L1327.5 1759.5 L1328.4 1753.3 L1329.4 1750.7 L1330.3 1746.0 L1331.4 1763.1 L1332.5 1787.6 L1333.5 1771.9 L1334.5 1751.1 L1335.4 1777.4 L1336.4 1819.2 L1337.3 1845.3 L1338.3 1823.4 L1339.3 1794.7 L1340.4 1777.1 L1341.5 1756.7 L1342.4 1779.0 L1343.4 1810.9 L1344.3 1831.2 L1345.3 1851.3 L1346.2 1857.2 L1347.2 1876.2 L1348.2 1880.6 L1349.3 1882.8 L1350.4 1882.2 L1351.4 1881.8 L1352.3 1874.6 L1353.3 1862.5 L1354.2 1853.7 L1355.4 1849.9 L1356.6 1842.0 L1357.8 1828.4 L1358.9 1829.9 L1360.1 1837.3 L1361.2 1836.8 L1362.1 1829.0 L1363.1 1819.0 L1364.0 1815.7 L1365.0 1817.7 L1366.1 1819.3 L1367.2 1831.8 L1368.2 1831.2 L1369.3 1844.0 L1370.3 1842.5 L1371.4 1855.5 L1372.5 1862.1 L1373.4 1863.0 L1374.4 1861.7 L1375.3 1867.8 L1376.3 1850.8 L1377.4 1835.5 L1378.5 1826.2 L1379.5 1808.7 L1380.4 1810.7 L1381.4 1820.3 L1382.3 1831.2 L1383.2 1821.2 L1384.2 1807.2 L1385.1 1803.1 L1386.1 1794.7 L1387.2 1784.6 L1388.2 1777.2 L1389.3 1763.7 L1390.2 1764.2 L1391.2 1768.9 L1392.1 1775.0 L1393.1 1778.7 L1394.0 1779.0 L1395.0 1784.8 L1396.1 1769.6 L1397.2 1752.5 L1398.3 1759.6 L1399.5 1774.2 L1400.6 1782.0 L1401.6 1776.4 L1402.7 1767.8 L1403.8 1760.9 L1404.8 1746.9 L1405.5 1730.5 L1406.2 1713.1 L1407.1 1718.6 L1408.1 1728.3 L1409.0 1730.0 L1410.2 1723.1 L1411.3 1710.3 L1412.2 1720.9 L1413.2 1730.0 L1414.2 1738.1 L1415.1 1746.4 L1416.1 1758.1 L1417.1 1751.0 L1418.2 1755.9 L1419.2 1745.5 L1420.3 1746.9 L1421.4 1768.6 L1422.5 1784.8 L1423.4 1772.7 L1424.4 1764.6 L1425.3 1746.9 L1426.4 1740.4 L1427.6 1733.3 L1428.7 1718.7 L1429.6 1712.8 L1430.6 1715.0 L1431.5 1713.1 L1432.6 1723.7 L1433.8 1730.7 L1434.9 1742.6 L1436.0 1729.3 L1437.1 1715.9 L1438.1 1727.0 L1439.0 1741.5 L1440.0 1753.9 L1441.0 1736.1 L1442.1 1728.7 L1443.2 1716.4 L1444.2 1704.7 L1445.1 1718.0 L1446.1 1734.5 L1447.0 1751.1 L1448.2 1741.5 L1449.4 1727.8 L1450.6 1713.1 L1451.7 1722.4 L1452.9 1733.5 L1454.0 1741.2 L1455.0 1733.9 L1456.1 1726.0 L1457.2 1717.8 L1458.2 1717.3 L1459.4 1723.3 L1460.7 1735.2 L1461.9 1742.6 L1463.0 1739.3 L1464.2 1731.2 L1465.3 1720.1 L1466.4 1717.0 L1467.5 1718.9 L1468.6 1710.3 L1469.8 1726.7 L1470.9 1744.0 L1472.0 1737.9 L1473.0 1723.3 L1474.0 1717.2 L1475.1 1704.7 L1476.0 1717.6 L1477.0 1717.6 L1477.9 1727.2 L1478.8 1714.6 L1479.8 1710.7 L1480.7 1700.4 L1481.8 1706.0 L1482.8 1709.4 L1483.9 1710.8 L1484.9 1721.5 L1486.0 1732.2 L1487.1 1744.6 L1488.1 1756.3 L1489.2 1769.3 L1489.9 1785.3 L1490.6 1793.3 L1491.5 1787.2 L1492.5 1781.8 L1493.4 1772.2 L1494.5 1788.5 L1495.6 1796.1 L1496.7 1783.4 L1497.9 1765.1 L1499.0 1749.7 L1500.2 1729.9 L1501.5 1706.2 L1502.7 1682.2 L1503.5 1696.0 L1504.4 1708.0 L1505.2 1718.7 L1506.3 1707.8 L1507.4 1699.0 L1508.4 1708.9 L1509.3 1717.4 L1510.3 1724.4 L1511.2 1708.4 L1512.2 1682.7 L1513.4 1701.6 L1514.7 1718.0 L1515.9 1730.0 L1516.8 1726.4 L1517.8 1720.3 L1518.7 1710.3 L1519.8 1720.4 L1521.0 1726.4 L1522.1 1737.0 L1523.1 1730.8 L1524.1 1732.0 L1525.1 1730.1 L1526.1 1722.8 L1527.1 1718.7 L1528.1 1711.2 L1529.2 1715.1 L1530.2 1707.6 L1531.3 1704.1 L1532.4 1720.0 L1533.4 1731.7 L1534.5 1753.1 L1535.6 1769.3 L1536.7 1776.5 L1537.8 1777.5 L1538.9 1781.4 L1540.0 1787.5 L1541.0 1781.5 L1542.1 1766.7 L1543.2 1764.3 L1544.2 1756.5 L1545.1 1754.8 L1546.1 1745.5 L1547.0 1736.8 L1548.0 1722.4 L1549.0 1710.1 L1549.9 1723.0 L1550.9 1732.9 L1551.8 1742.5 L1553.0 1726.2 L1554.3 1713.0 L1555.5 1703.1 L1556.4 1705.0 L1557.4 1695.9 L1558.3 1696.1 L1559.2 1699.4 L1560.2 1715.7 L1561.1 1720.0 L1562.0 1712.8 L1563.0 1703.6 L1563.9 1697.5 L1564.8 1706.5 L1565.8 1717.9 L1566.7 1724.2 L1567.8 1713.2 L1568.8 1711.1 L1569.9 1704.4 L1570.9 1694.7 L1572.1 1714.3 L1573.2 1727.0 L1574.1 1718.4 L1575.1 1716.0 L1576.0 1708.7 L1577.1 1713.7 L1578.3 1725.3 L1579.4 1732.6 L1580.3 1719.2 L1581.3 1716.1 L1582.2 1703.1 L1583.3 1728.2 L1584.4 1745.3 L1585.3 1729.8 L1586.3 1715.0 L1587.2 1704.5 L1588.3 1730.7 L1589.5 1749.0 L1590.6 1767.8 L1591.7 1756.6 L1592.9 1732.6 L1594.0 1722.8 L1595.2 1719.7 L1596.4 1709.1 L1597.6 1700.3 L1598.6 1719.4 L1599.6 1742.5 L1600.8 1749.2 L1602.1 1760.4 L1603.3 1765.0 L1604.2 1772.3 L1605.2 1770.0 L1606.1 1777.6 L1607.0 1788.8 L1608.0 1793.6 L1608.9 1807.1 L1610.1 1801.1 L1611.4 1784.0 L1612.6 1773.4 L1613.5 1801.4 L1614.5 1822.8 L1615.4 1843.7 L1616.3 1857.5 L1617.3 1869.0 L1618.4 1860.8 L1619.4 1858.0 L1620.5 1848.1 L1621.6 1846.5 L1622.5 1824.3 L1623.5 1812.3 L1624.4 1791.7 L1625.3 1797.2 L1626.3 1808.5 L1627.2 1812.8 L1628.1 1801.0 L1629.1 1797.4 L1630.0 1786.1 L1631.0 1787.1 L1632.1 1781.1 L1633.2 1777.5 L1634.2 1780.4 L1635.2 1779.6 L1636.3 1781.0 L1637.4 1777.0 L1638.4 1781.8 L1639.5 1795.9 L1640.5 1812.1 L1641.5 1835.6 L1642.6 1852.1 L1643.7 1850.1 L1644.8 1836.3 L1645.8 1828.0 L1646.9 1826.8 L1648.0 1820.6 L1649.0 1813.4 L1650.0 1806.6 L1651.1 1793.1 L1652.0 1803.2 L1653.0 1809.2 L1653.9 1819.8 L1654.8 1813.7 L1655.8 1795.9 L1656.7 1790.3 L1657.8 1798.7 L1658.8 1798.5 L1659.9 1808.2 L1660.9 1815.6 L1661.9 1827.6 L1662.9 1838.4 L1664.0 1848.2 L1665.0 1861.0 L1666.0 1876.0 L1666.9 1866.0 L1667.9 1848.5 L1668.8 1835.3 L1669.7 1831.9 L1670.7 1823.7 L1671.6 1822.6 L1672.7 1835.7 L1673.9 1842.3 L1675.0 1854.9 L1676.1 1851.7 L1677.3 1851.0 L1678.4 1842.3 L1679.6 1855.7 L1680.8 1853.2 L1682.0 1866.2 L1683.2 1884.9 L1684.3 1897.1 L1685.4 1871.0 L1686.5 1835.1 L1687.6 1807.1 L1688.5 1812.4 L1689.5 1821.1 L1690.4 1826.8 L1691.4 1846.4 L1692.3 1855.7 L1693.3 1871.8 L1694.4 1886.5 L1695.5 1892.9 L1696.6 1886.8 L1697.8 1871.3 L1698.9 1866.2 L1699.8 1862.8 L1700.8 1844.9 L1701.7 1842.3 L1702.8 1835.9 L1703.8 1839.2 L1704.9 1830.1 L1705.9 1832.5 L1707.0 1825.5 L1708.0 1817.2 L1709.0 1815.2 L1710.1 1810.0 L1711.0 1807.6 L1712.0 1802.3 L1712.9 1791.7 L1714.0 1791.2 L1715.1 1796.0 L1716.1 1809.2 L1717.2 1810.0 L1718.1 1787.1 L1719.1 1771.8 L1720.0 1756.5 L1721.1 1749.8 L1722.2 1747.0 L1723.4 1743.7 L1724.5 1747.9 L1725.6 1743.9 L1726.6 1751.9 L1727.7 1756.5 L1728.8 1763.5 L1729.8 1765.0 L1731.0 1750.4 L1732.3 1730.9 L1733.5 1715.7 L1734.6 1725.1 L1735.8 1736.9 L1736.9 1739.7 L1738.0 1733.5 L1739.1 1724.2 L1740.3 1728.0 L1741.5 1732.7 L1742.7 1749.0 L1743.9 1750.9 L1745.1 1729.4 L1746.3 1704.2 L1747.5 1683.4 L1748.6 1682.7 L1749.8 1680.3 L1750.9 1677.8 L1752.0 1675.9 L1753.0 1668.7 L1754.0 1669.8 L1755.1 1669.3 L1755.8 1680.3 L1756.5 1693.3 L1757.4 1678.3 L1758.4 1674.0 L1759.3 1658.1 L1760.3 1672.3 L1761.2 1689.9 L1762.2 1703.1 L1763.2 1688.2 L1764.3 1671.3 L1765.4 1653.9 L1766.4 1634.2 L1767.3 1649.6 L1768.3 1656.8 L1769.2 1672.2 L1770.1 1686.3 L1771.1 1686.2 L1772.0 1698.9 L1772.9 1688.0 L1773.9 1671.9 L1774.8 1652.5 L1775.8 1668.3 L1776.9 1671.5 L1778.0 1683.9 L1779.0 1700.3 L1779.9 1692.5 L1780.9 1677.4 L1781.8 1666.5 L1782.8 1670.7 L1783.7 1683.1 L1784.7 1683.4 L1785.6 1656.8 L1786.6 1640.6 L1787.5 1618.7 L1788.5 1637.1 L1789.6 1652.6 L1790.7 1674.5 L1791.7 1694.7 L1792.8 1689.2 L1793.8 1683.4 L1794.9 1666.2 L1795.9 1663.7 L1796.8 1655.1 L1797.8 1641.4 L1798.7 1637.0 L1799.6 1649.2 L1800.6 1650.2 L1801.5 1663.7 L1802.4 1636.1 L1803.4 1617.4 L1804.3 1596.2 L1805.3 1599.7 L1806.2 1596.0 L1807.2 1599.0 L1808.2 1599.9 L1809.3 1612.1 L1810.4 1617.2 L1811.4 1618.7 L1812.3 1632.5 L1813.3 1636.3 L1814.2 1648.3 L1815.1 1641.4 L1816.1 1633.3 L1817.0 1630.0 L1817.9 1620.3 L1818.9 1607.5 L1819.8 1599.0 L1820.7 1602.9 L1821.7 1613.4 L1822.6 1615.9 L1823.5 1607.8 L1824.5 1590.6 L1825.4 1576.5 L1826.3 1578.7 L1827.3 1591.3 L1828.2 1596.2 L1829.2 1587.4 L1830.1 1585.1 L1831.1 1571.5 L1832.0 1580.3 L1833.0 1587.9 L1833.9 1590.6 L1835.0 1597.0 L1836.0 1599.4 L1837.0 1607.6 L1838.1 1607.5 L1839.1 1617.5 L1840.2 1617.9 L1841.2 1622.7 L1842.3 1632.8 L1843.3 1641.9 L1844.4 1654.1 L1845.5 1660.0 L1846.5 1675.0 L1847.4 1693.0 L1848.4 1715.2 L1849.3 1734.0 L1850.4 1729.4 L1851.6 1738.4 L1852.7 1735.4 L1853.9 1721.6 L1855.2 1702.4 L1856.4 1689.0 L1857.3 1665.2 L1858.3 1644.3 L1859.2 1624.4 L1860.1 1628.1 L1861.1 1638.3 L1862.0 1641.2 L1862.9 1631.8 L1863.9 1622.8 L1864.8 1613.1 L1865.7 1611.1 L1866.7 1621.4 L1867.6 1618.7 L1868.8 1651.9 L1870.1 1687.1 L1871.3 1724.2 L1872.4 1697.5 L1873.5 1702.9 L1874.6 1675.0 L1875.7 1664.3 L1876.8 1664.5 L1877.8 1654.7 L1878.9 1634.2 L1879.8 1680.6 L1880.8 1712.1 L1881.7 1739.7 L1882.7 1707.7 L1883.6 1655.3 L1884.8 1699.2 L1886.1 1730.0 L1887.3 1756.5 L1888.3 1763.9 L1889.3 1788.9 L1890.4 1728.3 L1891.5 1666.5 L1892.6 1686.1 L1893.8 1714.0 L1894.9 1720.0 L1896.1 1700.5 L1897.3 1672.3 L1898.5 1641.2 L1899.2 1697.1 L1900.0 1741.1 L1900.9 1703.5 L1901.9 1683.2 L1902.8 1638.4 L1903.7 1665.3 L1904.7 1682.9 L1905.6 1708.7 L1906.5 1692.8 L1907.5 1690.2 L1908.4 1663.7 L1909.3 1677.6 L1910.3 1682.0 L1911.2 1703.1 L1912.2 1672.5 L1913.3 1651.7 L1914.4 1623.6 L1915.4 1596.2 L1916.3 1594.1 L1917.3 1579.6 L1918.2 1576.5 L1919.1 1593.4 L1920.1 1614.7 L1921.0 1630.0 L1922.0 1629.7 L1922.9 1634.9 L1923.9 1644.0 L1925.0 1631.2 L1926.0 1614.7 L1927.0 1599.6 L1928.1 1590.6 L1929.1 1583.1 L1930.2 1582.2 L1931.2 1576.1 L1932.3 1570.9 L1933.2 1547.2 L1934.2 1533.4 L1935.1 1530.1 L1936.1 1554.7 L1937.1 1562.5 L1938.2 1545.5 L1939.3 1521.7 L1940.2 1526.5 L1941.2 1555.7 L1942.1 1559.7 L1943.0 1534.6 L1944.0 1529.3 L1944.9 1518.9 L1945.9 1553.2 L1946.9 1570.9 L1948.1 1538.3 L1949.2 1495.6 L1950.2 1514.0 L1951.1 1542.8 L1952.3 1574.8 L1953.6 1599.2 L1954.8 1625.8 L1955.8 1609.1 L1956.9 1588.6 L1958.0 1562.7 L1959.0 1542.8 L1960.0 1540.2 L1961.1 1534.1 L1962.2 1534.0 L1963.2 1524.5 L1964.2 1553.8 L1965.2 1576.5 L1966.4 1566.8 L1967.7 1555.6 L1968.9 1540.0 L1969.8 1575.5 L1970.8 1597.3 L1971.7 1630.0 L1972.6 1640.8 L1973.6 1660.8 L1974.5 1672.2 L1975.6 1684.1 L1976.8 1690.2 L1977.9 1698.9 L1979.0 1641.8 L1980.1 1585.0 L1981.0 1591.1 L1982.0 1611.1 L1982.9 1610.3 L1983.8 1591.2 L1984.8 1559.9 L1985.7 1531.6 L1986.6 1540.2 L1987.6 1579.4 L1988.5 1590.6 L1989.4 1568.0 L1990.4 1540.0 L1991.3 1525.9 L1992.3 1551.1 L1993.2 1590.5 L1994.2 1615.9 L1995.1 1575.9 L1996.1 1550.6 L1997.0 1531.6 L1997.9 1556.4 L1998.9 1599.9 L1999.8 1620.1 L2000.7 1590.0 L2001.7 1559.3 L2002.6 1511.9 L2003.5 1548.5 L2004.5 1584.8 L2005.4 1618.7 L2006.6 1634.7 L2007.7 1648.3" stroke="#f00" stroke-width="4"/>
</g>
<line x1="640.8" y1="1982.2" x2="2007" y2="1982.2" stroke="#00ee00" stroke-width="5.6" stroke-dasharray="27 26"/>
<line x1="782" y1="2317.7" x2="782" y2="2507" stroke="#0000ff" stroke-width="5.6" stroke-dasharray="26.5 26.5"/>
<line x1="1462.5" y1="2319.3" x2="1462.5" y2="2507" stroke="#0000ff" stroke-width="5.6" stroke-dasharray="26.5 26.5"/>
<line x1="1489.2" y1="2324.1" x2="1993" y2="2324.1" stroke="#0000ff" stroke-width="5.2" stroke-dasharray="26.7 26.2"/>
<g stroke="#000" stroke-width="4" fill="none">
<line x1="626.9" y1="1402.0" x2="2009.5" y2="1402.0"/>
<line x1="626.9" y1="2508.5" x2="2009.5" y2="2508.5"/>
<line x1="647.7" y1="2508.5" x2="647.7" y2="2530.1"/>
<line x1="783.7" y1="2508.5" x2="783.7" y2="2518.5"/>
<line x1="919.7" y1="2508.5" x2="919.7" y2="2530.1"/>
<line x1="1055.7" y1="2508.5" x2="1055.7" y2="2518.5"/>
<line x1="1191.7" y1="2508.5" x2="1191.7" y2="2530.1"/>
<line x1="1327.7" y1="2508.5" x2="1327.7" y2="2518.5"/>
<line x1="1463.7" y1="2508.5" x2="1463.7" y2="2530.1"/>
<line x1="1599.7" y1="2508.5" x2="1599.7" y2="2518.5"/>
<line x1="1735.7" y1="2508.5" x2="1735.7" y2="2530.1"/>
<line x1="1871.7" y1="2508.5" x2="1871.7" y2="2518.5"/>
<line x1="2007.7" y1="2508.5" x2="2007.7" y2="2530.1"/>
</g>
<g stroke="#333" stroke-width="3.5" fill="none">
<line x1="637.9" y1="1402.0" x2="637.9" y2="2508.5"/>
<line x1="2008.0" y1="1402.0" x2="2008.0" y2="2508.5"/>
<line x1="614.6" y1="2416.9" x2="637.9" y2="2416.9"/>
<line x1="626.9" y1="2324.8" x2="637.9" y2="2324.8"/>
<line x1="614.6" y1="2232.6" x2="637.9" y2="2232.6"/>
<line x1="626.9" y1="2140.4" x2="637.9" y2="2140.4"/>
<line x1="614.6" y1="2048.3" x2="637.9" y2="2048.3"/>
<line x1="626.9" y1="1956.2" x2="637.9" y2="1956.2"/>
<line x1="614.6" y1="1864.0" x2="637.9" y2="1864.0"/>
<line x1="626.9" y1="1771.8" x2="637.9" y2="1771.8"/>
<line x1="614.6" y1="1679.7" x2="637.9" y2="1679.7"/>
<line x1="626.9" y1="1587.6" x2="637.9" y2="1587.6"/>
<line x1="614.6" y1="1495.4" x2="637.9" y2="1495.4"/>
</g>
<g font-size="73.5" fill="#000">
<text x="647.7" y="2602" text-anchor="middle">0</text>
<text x="919.7" y="2602" text-anchor="middle">10</text>
<text x="1191.7" y="2602" text-anchor="middle">20</text>
<text x="1463.7" y="2602" text-anchor="middle">30</text>
<text x="1735.7" y="2602" text-anchor="middle">40</text>
<text x="2007.7" y="2602" text-anchor="middle">50</text>
<text x="599.5" y="2438.2" text-anchor="end">0</text>
<text x="599.5" y="2253.9" text-anchor="end">2</text>
<text x="599.5" y="2069.6" text-anchor="end">4</text>
<text x="599.5" y="1885.3" text-anchor="end">6</text>
<text x="599.5" y="1701.0" text-anchor="end">8</text>
<text x="599.5" y="1516.7" text-anchor="end">10</text>
</g>
<text x="1308.7" y="2697.7" font-size="73.4" text-anchor="middle" fill="#333">Time (ns)</text>
<text transform="translate(474,1934.5) rotate(-90)" font-size="73.2" text-anchor="middle" fill="#000">Distance (nm)</text>
<line x1="1450" y1="1448.4" x2="1604.3" y2="1448.4" stroke="#333" stroke-width="3.4"/>
<line x1="1450" y1="1532.3" x2="1604.3" y2="1532.3" stroke="#f00" stroke-width="3.4"/>
<text x="1621" y="1472" font-size="68" fill="#333">System A</text>
<text x="1621" y="1554.7" font-size="68" fill="#f00">System B</text>
<text x="700" y="2051.3" font-size="68.5" fill="#00ee00">about 4.6 nm</text>
<text x="1561.5" y="2209.7" font-size="68" fill="#0000ff">about 1 nm</text>
<text x="804.5" y="2466.8" font-size="67" fill="#0000ff">5 ns</text>
<text x="1497" y="2475.4" font-size="67" fill="#0000ff">30 ns</text>
</svg></body></html>
